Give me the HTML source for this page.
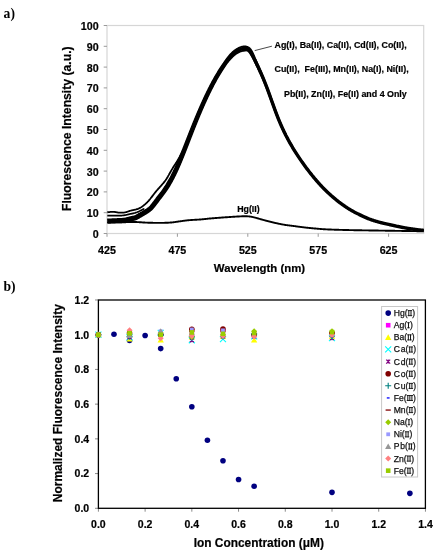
<!DOCTYPE html>
<html><head><meta charset="utf-8"><style>
html,body{margin:0;padding:0;background:#fff;width:438px;height:550px;overflow:hidden}
svg{display:block;will-change:transform}
</style></head><body>
<svg width="438" height="550" viewBox="0 0 438 550">
<rect width="438" height="550" fill="#fff"/>
<text x="3.6" y="17.6" font-family="&quot;Liberation Serif&quot;, serif" font-weight="bold" font-size="13.6">a)</text>
<text x="3.4" y="291.0" font-family="&quot;Liberation Serif&quot;, serif" font-weight="bold" font-size="13.6">b)</text>
<rect x="107.0" y="25.5" width="316.7" height="208.0" fill="none" stroke="#d6d6d6" stroke-width="1.2"/>
<line x1="103.7" y1="233.50" x2="107.0" y2="233.50" stroke="#9a9a9a" stroke-width="1"/>
<text x="98.6" y="237.90" text-anchor="end" font-family='"Liberation Sans", sans-serif' font-weight="bold" stroke="#000" stroke-width="0.2" font-size="10.7">0</text>
<line x1="103.7" y1="212.70" x2="107.0" y2="212.70" stroke="#9a9a9a" stroke-width="1"/>
<text x="98.6" y="217.10" text-anchor="end" font-family='"Liberation Sans", sans-serif' font-weight="bold" stroke="#000" stroke-width="0.2" font-size="10.7">10</text>
<line x1="103.7" y1="191.90" x2="107.0" y2="191.90" stroke="#9a9a9a" stroke-width="1"/>
<text x="98.6" y="196.30" text-anchor="end" font-family='"Liberation Sans", sans-serif' font-weight="bold" stroke="#000" stroke-width="0.2" font-size="10.7">20</text>
<line x1="103.7" y1="171.10" x2="107.0" y2="171.10" stroke="#9a9a9a" stroke-width="1"/>
<text x="98.6" y="175.50" text-anchor="end" font-family='"Liberation Sans", sans-serif' font-weight="bold" stroke="#000" stroke-width="0.2" font-size="10.7">30</text>
<line x1="103.7" y1="150.30" x2="107.0" y2="150.30" stroke="#9a9a9a" stroke-width="1"/>
<text x="98.6" y="154.70" text-anchor="end" font-family='"Liberation Sans", sans-serif' font-weight="bold" stroke="#000" stroke-width="0.2" font-size="10.7">40</text>
<line x1="103.7" y1="129.50" x2="107.0" y2="129.50" stroke="#9a9a9a" stroke-width="1"/>
<text x="98.6" y="133.90" text-anchor="end" font-family='"Liberation Sans", sans-serif' font-weight="bold" stroke="#000" stroke-width="0.2" font-size="10.7">50</text>
<line x1="103.7" y1="108.70" x2="107.0" y2="108.70" stroke="#9a9a9a" stroke-width="1"/>
<text x="98.6" y="113.10" text-anchor="end" font-family='"Liberation Sans", sans-serif' font-weight="bold" stroke="#000" stroke-width="0.2" font-size="10.7">60</text>
<line x1="103.7" y1="87.90" x2="107.0" y2="87.90" stroke="#9a9a9a" stroke-width="1"/>
<text x="98.6" y="92.30" text-anchor="end" font-family='"Liberation Sans", sans-serif' font-weight="bold" stroke="#000" stroke-width="0.2" font-size="10.7">70</text>
<line x1="103.7" y1="67.10" x2="107.0" y2="67.10" stroke="#9a9a9a" stroke-width="1"/>
<text x="98.6" y="71.50" text-anchor="end" font-family='"Liberation Sans", sans-serif' font-weight="bold" stroke="#000" stroke-width="0.2" font-size="10.7">80</text>
<line x1="103.7" y1="46.30" x2="107.0" y2="46.30" stroke="#9a9a9a" stroke-width="1"/>
<text x="98.6" y="50.70" text-anchor="end" font-family='"Liberation Sans", sans-serif' font-weight="bold" stroke="#000" stroke-width="0.2" font-size="10.7">90</text>
<line x1="103.7" y1="25.50" x2="107.0" y2="25.50" stroke="#9a9a9a" stroke-width="1"/>
<text x="98.6" y="29.90" text-anchor="end" font-family='"Liberation Sans", sans-serif' font-weight="bold" stroke="#000" stroke-width="0.2" font-size="10.7">100</text>
<line x1="107.00" y1="233.5" x2="107.00" y2="236.8" stroke="#9a9a9a" stroke-width="1"/>
<text x="107.00" y="254.1" text-anchor="middle" font-family='"Liberation Sans", sans-serif' font-weight="bold" stroke="#000" stroke-width="0.2" font-size="10.7">425</text>
<line x1="177.40" y1="233.5" x2="177.40" y2="236.8" stroke="#9a9a9a" stroke-width="1"/>
<text x="177.40" y="254.1" text-anchor="middle" font-family='"Liberation Sans", sans-serif' font-weight="bold" stroke="#000" stroke-width="0.2" font-size="10.7">475</text>
<line x1="247.80" y1="233.5" x2="247.80" y2="236.8" stroke="#9a9a9a" stroke-width="1"/>
<text x="247.80" y="254.1" text-anchor="middle" font-family='"Liberation Sans", sans-serif' font-weight="bold" stroke="#000" stroke-width="0.2" font-size="10.7">525</text>
<line x1="318.20" y1="233.5" x2="318.20" y2="236.8" stroke="#9a9a9a" stroke-width="1"/>
<text x="318.20" y="254.1" text-anchor="middle" font-family='"Liberation Sans", sans-serif' font-weight="bold" stroke="#000" stroke-width="0.2" font-size="10.7">575</text>
<line x1="388.60" y1="233.5" x2="388.60" y2="236.8" stroke="#9a9a9a" stroke-width="1"/>
<text x="388.60" y="254.1" text-anchor="middle" font-family='"Liberation Sans", sans-serif' font-weight="bold" stroke="#000" stroke-width="0.2" font-size="10.7">625</text>
<text x="259.5" y="272.1" text-anchor="middle" font-family='"Liberation Sans", sans-serif' font-weight="bold" stroke="#000" stroke-width="0.2" font-size="11.4">Wavelength (nm)</text>
<text transform="translate(71.4,128.7) rotate(-90)" text-anchor="middle" font-family='"Liberation Sans", sans-serif' font-weight="bold" stroke="#000" stroke-width="0.2" font-size="12.2">Fluorescence Intensity (a.u.)</text>
<path d="M107.17,219.50L107.80,219.46L108.42,219.43L109.01,219.40L109.61,219.37L110.21,219.34L110.81,219.31L111.41,219.28L112.01,219.25L112.61,219.22L113.21,219.19L113.81,219.16L114.41,219.13L115.01,219.10L115.62,219.07L116.22,219.05L116.82,219.03L117.43,219.00L118.03,218.98L118.63,218.96L119.22,218.94L119.82,218.92L120.41,218.89L121.01,218.87L121.60,218.84L122.18,218.81L122.76,218.77L123.32,218.72L123.88,218.66L124.42,218.59L124.96,218.51L125.50,218.40L126.05,218.28L126.60,218.14L127.17,217.99L127.75,217.84L128.34,217.68L128.93,217.53L129.54,217.39L130.14,217.25L130.75,217.12L131.34,217.00L131.92,216.88L132.49,216.75L133.04,216.63L133.57,216.49L134.09,216.34L134.59,216.17L135.07,215.98L135.56,215.77L136.04,215.53L136.53,215.27L137.03,215.00L137.54,214.71L138.05,214.41L138.57,214.10L139.10,213.80L139.62,213.50L140.15,213.20L140.67,212.90L141.19,212.61L141.71,212.32L142.22,212.02L142.73,211.72L143.24,211.42L143.74,211.12L144.25,210.81L144.76,210.50L145.26,210.19L145.75,209.88L146.24,209.57L146.72,209.25L147.19,208.93L147.64,208.60L148.09,208.27L148.51,207.92L148.93,207.56L149.34,207.19L149.74,206.80L150.13,206.40L150.51,205.99L150.89,205.56L151.27,205.13L151.64,204.69L152.01,204.24L152.37,203.79L152.74,203.32L153.09,202.86L153.45,202.39L153.80,201.92L154.16,201.44L154.51,200.96L154.86,200.48L155.22,199.99L155.58,199.50L155.95,199.02L156.31,198.53L156.68,198.05L157.05,197.57L157.43,197.09L157.80,196.61L158.18,196.14L158.55,195.66L158.93,195.19L159.30,194.73L159.67,194.26L160.04,193.79L160.41,193.32L160.77,192.86L161.14,192.39L161.49,191.92L161.85,191.45L162.20,190.98L162.55,190.50L162.89,190.03L163.23,189.54L163.57,189.06L163.90,188.58L164.23,188.09L164.55,187.60L164.88,187.10L165.20,186.61L165.51,186.11L165.83,185.61L166.14,185.10L166.45,184.60L166.76,184.09L167.06,183.59L167.37,183.08L167.67,182.56L167.97,182.05L168.26,181.54L168.56,181.02L168.85,180.51L169.14,179.99L169.43,179.47L169.71,178.95L170.00,178.43L170.28,177.91L170.55,177.38L170.83,176.86L171.11,176.33L171.38,175.80L171.65,175.27L171.92,174.74L172.18,174.21L172.45,173.68L172.71,173.15L172.97,172.61L173.23,172.08L173.49,171.54L173.75,171.00L174.00,170.46L174.26,169.92L174.51,169.38L174.76,168.84L175.01,168.30L175.26,167.76L175.50,167.22L175.75,166.68L175.99,166.13L176.23,165.59L176.47,165.04L176.71,164.49L176.95,163.95L177.19,163.40L177.42,162.85L177.66,162.30L177.89,161.75L178.12,161.20L178.36,160.65L178.59,160.10L178.82,159.55L179.05,159.00L179.28,158.44L179.51,157.89L179.74,157.34L179.96,156.79L180.19,156.23L180.42,155.68L180.64,155.12L180.86,154.57L181.09,154.01L181.31,153.46L181.53,152.90L181.76,152.35L181.98,151.79L182.20,151.23L182.42,150.68L182.64,150.12L182.86,149.56L183.09,149.01L183.31,148.45L183.53,147.89L183.75,147.34L183.96,146.78L184.18,146.22L184.40,145.66L184.62,145.10L184.84,144.55L185.06,143.99L185.28,143.43L185.50,142.87L185.72,142.31L185.93,141.75L186.15,141.19L186.37,140.63L186.59,140.08L186.81,139.52L187.03,138.96L187.25,138.40L187.46,137.84L187.68,137.28L187.90,136.72L188.12,136.16L188.34,135.61L188.56,135.05L188.78,134.49L189.00,133.93L189.22,133.37L189.44,132.81L189.66,132.25L189.88,131.69L190.10,131.13L190.32,130.58L190.54,130.02L190.76,129.46L190.99,128.90L191.21,128.34L191.43,127.78L191.65,127.23L191.88,126.67L192.10,126.11L192.33,125.55L192.55,125.00L192.78,124.44L193.00,123.88L193.23,123.33L193.45,122.77L193.68,122.21L193.91,121.65L194.13,121.10L194.36,120.54L194.59,119.99L194.82,119.43L195.05,118.87L195.28,118.32L195.51,117.76L195.74,117.21L195.97,116.65L196.20,116.10L196.43,115.54L196.67,114.99L196.90,114.43L197.14,113.88L197.37,113.33L197.60,112.77L197.84,112.22L198.08,111.67L198.31,111.11L198.55,110.56L198.79,110.01L199.03,109.46L199.27,108.91L199.51,108.35L199.75,107.80L199.99,107.25L200.23,106.70L200.47,106.15L200.72,105.60L200.96,105.05L201.21,104.50L201.45,103.95L201.70,103.40L201.94,102.85L202.19,102.30L202.44,101.75L202.69,101.21L202.94,100.66L203.19,100.11L203.44,99.56L203.69,99.02L203.95,98.47L204.20,97.93L204.46,97.38L204.71,96.84L204.97,96.29L205.23,95.75L205.49,95.20L205.75,94.66L206.01,94.12L206.27,93.57L206.53,93.03L206.80,92.49L207.06,91.95L207.33,91.41L207.59,90.87L207.86,90.33L208.13,89.79L208.40,89.25L208.67,88.71L208.94,88.17L209.21,87.64L209.49,87.10L209.76,86.56L210.04,86.03L210.32,85.49L210.60,84.96L210.88,84.42L211.16,83.89L211.44,83.36L211.72,82.82L212.01,82.29L212.29,81.76L212.58,81.23L212.87,80.70L213.16,80.17L213.46,79.64L213.75,79.12L214.05,78.59L214.34,78.06L214.64,77.54L214.94,77.01L215.25,76.49L215.55,75.97L215.85,75.45L216.16,74.93L216.47,74.41L216.78,73.89L217.09,73.37L217.40,72.86L217.71,72.34L218.03,71.82L218.34,71.31L218.66,70.80L218.98,70.28L219.30,69.77L219.63,69.26L219.95,68.75L220.28,68.24L220.61,67.73L220.94,67.23L221.27,66.72L221.61,66.22L221.95,65.72L222.28,65.22L222.62,64.72L222.97,64.22L223.31,63.72L223.66,63.23L224.00,62.73L224.34,62.22L224.68,61.72L225.02,61.21L225.37,60.71L225.72,60.21L226.08,59.71L226.44,59.22L226.80,58.73L227.17,58.24L227.55,57.75L227.93,57.27L228.32,56.79L228.71,56.31L229.11,55.84L229.51,55.37L229.92,54.90L230.34,54.44L230.76,53.98L231.20,53.53L231.64,53.09L232.09,52.64L232.55,52.21L233.02,51.78L233.51,51.36L234.01,50.95L234.52,50.55L235.04,50.17L235.58,49.80L236.12,49.44L236.67,49.10L237.23,48.77L237.79,48.45L238.36,48.15L238.94,47.86L239.53,47.58L240.16,47.31L240.81,47.06L241.48,46.85L242.16,46.66L242.84,46.52L243.52,46.40L244.22,46.37L244.93,46.42L245.67,46.51L246.43,46.65L247.20,46.88L247.95,47.19L248.65,47.58L249.28,48.03L249.86,48.53L250.38,49.07L250.83,49.64L251.22,50.20L251.57,50.76L251.90,51.33L252.20,51.90L252.48,52.46L252.75,53.02L253.00,53.58L253.25,54.14L253.50,54.70L253.74,55.26L253.97,55.82L254.21,56.38L254.44,56.94L254.67,57.50L254.90,58.05L255.15,58.60L255.39,59.15L255.64,59.69L255.89,60.24L256.13,60.79L256.38,61.33L256.63,61.88L256.88,62.42L257.12,62.97L257.37,63.52L257.62,64.06L257.87,64.61L258.12,65.16L258.36,65.70L258.61,66.25L258.86,66.80L259.10,67.35L259.35,67.90L259.59,68.45L259.84,69.00L260.08,69.55L260.32,70.10L260.56,70.65L260.80,71.20L261.04,71.75L261.28,72.31L261.51,72.86L261.75,73.41L261.98,73.97L262.21,74.52L262.45,75.08L262.68,75.63L262.91,76.19L263.14,76.74L263.37,77.30L263.59,77.86L263.82,78.41L264.04,78.97L264.26,79.53L264.48,80.09L264.70,80.65L264.92,81.21L265.14,81.77L265.36,82.33L265.57,82.89L265.80,83.45L266.01,84.01L266.23,84.57L266.45,85.13L266.66,85.69L266.88,86.25L267.09,86.81L267.31,87.37L267.52,87.94L267.73,88.50L267.94,89.06L268.15,89.63L268.36,90.19L268.57,90.75L268.77,91.32L268.98,91.88L269.18,92.45L269.39,93.01L269.59,93.57L269.79,94.14L270.00,94.71L270.20,95.27L270.40,95.84L270.60,96.40L270.80,96.97L271.01,97.53L271.21,98.10L271.41,98.66L271.61,99.23L271.81,99.79L272.01,100.36L272.21,100.93L272.41,101.49L272.61,102.06L272.81,102.62L273.01,103.19L273.21,103.75L273.41,104.32L273.62,104.88L273.82,105.45L274.02,106.01L274.22,106.58L274.43,107.14L274.63,107.70L274.83,108.27L275.04,108.83L275.24,109.39L275.45,109.96L275.66,110.52L275.87,111.08L276.08,111.64L276.28,112.20L276.50,112.76L276.71,113.33L276.92,113.89L277.13,114.45L277.35,115.01L277.56,115.56L277.78,116.12L278.00,116.68L278.21,117.24L278.43,117.80L278.65,118.35L278.88,118.91L279.10,119.46L279.33,120.02L279.56,120.57L279.78,121.13L280.01,121.68L280.25,122.23L280.48,122.78L280.71,123.33L280.95,123.88L281.19,124.43L281.43,124.98L281.67,125.53L281.91,126.08L282.15,126.63L282.40,127.17L282.65,127.72L282.89,128.26L283.14,128.81L283.40,129.35L283.65,129.89L283.90,130.43L284.16,130.98L284.42,131.52L284.68,132.06L284.94,132.59L285.20,133.13L285.47,133.67L285.74,134.20L286.00,134.74L286.27,135.28L286.54,135.81L286.82,136.34L287.09,136.87L287.37,137.41L287.65,137.94L287.93,138.47L288.21,138.99L288.49,139.52L288.77,140.05L289.06,140.58L289.35,141.10L289.63,141.63L289.93,142.15L290.22,142.67L290.51,143.19L290.81,143.72L291.10,144.24L291.40,144.75L291.70,145.27L292.00,145.79L292.31,146.31L292.61,146.82L292.92,147.34L293.22,147.85L293.53,148.37L293.84,148.88L294.15,149.39L294.47,149.90L294.78,150.41L295.09,150.92L295.41,151.43L295.73,151.94L296.05,152.45L296.37,152.95L296.69,153.46L297.01,153.96L297.34,154.47L297.66,154.97L297.99,155.47L298.32,155.97L298.65,156.47L298.98,156.97L299.31,157.47L299.64,157.97L299.98,158.47L300.31,158.96L300.65,159.46L300.99,159.95L301.33,160.45L301.67,160.94L302.02,161.43L302.36,161.92L302.71,162.41L303.05,162.90L303.40,163.39L303.75,163.88L304.10,164.36L304.45,164.85L304.80,165.34L305.15,165.82L305.51,166.30L305.86,166.79L306.22,167.27L306.58,167.75L306.93,168.23L307.29,168.71L307.66,169.18L308.02,169.66L308.38,170.14L308.75,170.61L309.11,171.09L309.48,171.56L309.85,172.03L310.22,172.51L310.59,172.98L310.96,173.45L311.33,173.92L311.71,174.39L312.08,174.85L312.46,175.32L312.83,175.78L313.21,176.25L313.59,176.71L313.98,177.17L314.36,177.63L314.74,178.09L315.13,178.55L315.52,179.01L315.91,179.46L316.30,179.92L316.69,180.37L317.08,180.82L317.48,181.27L317.87,181.72L318.27,182.17L318.66,182.62L319.06,183.07L319.46,183.52L319.87,183.96L320.27,184.40L320.67,184.85L321.08,185.29L321.49,185.73L321.89,186.16L322.30,186.60L322.72,187.03L323.13,187.46L323.55,187.89L323.97,188.32L324.39,188.75L324.81,189.17L325.23,189.59L325.66,190.01L326.09,190.43L326.52,190.85L326.95,191.26L327.39,191.68L327.82,192.09L328.26,192.50L328.70,192.90L329.14,193.31L329.58,193.71L330.02,194.11L330.47,194.52L330.91,194.92L331.36,195.32L331.81,195.71L332.26,196.11L332.71,196.51L333.16,196.90L333.61,197.29L334.07,197.68L334.52,198.07L334.98,198.46L335.44,198.85L335.89,199.23L336.36,199.61L336.82,199.99L337.28,200.37L337.75,200.74L338.22,201.12L338.69,201.49L339.16,201.85L339.64,202.22L340.12,202.58L340.60,202.93L341.08,203.29L341.56,203.65L342.04,204.00L342.53,204.35L343.02,204.70L343.50,205.05L343.99,205.40L344.48,205.74L344.97,206.09L345.46,206.43L345.96,206.77L346.45,207.10L346.95,207.43L347.45,207.77L347.95,208.09L348.46,208.42L348.96,208.74L349.47,209.05L349.98,209.36L350.49,209.67L351.01,209.98L351.53,210.28L352.04,210.58L352.57,210.88L353.09,211.17L353.61,211.46L354.14,211.75L354.66,212.03L355.19,212.32L355.72,212.60L356.25,212.88L356.79,213.15L357.32,213.42L357.85,213.70L358.39,213.97L358.93,214.23L359.46,214.50L360.00,214.76L360.54,215.03L361.08,215.29L361.62,215.55L362.16,215.81L362.70,216.07L363.24,216.32L363.79,216.58L364.33,216.83L364.88,217.08L365.42,217.33L365.97,217.57L366.52,217.81L367.07,218.05L367.62,218.28L368.18,218.51L368.73,218.73L369.29,218.95L369.85,219.17L370.41,219.38L370.97,219.58L371.54,219.78L372.11,219.98L372.67,220.18L373.24,220.37L373.81,220.55L374.38,220.74L374.95,220.92L375.53,221.10L376.10,221.28L376.67,221.45L377.25,221.62L377.83,221.79L378.40,221.95L378.98,222.11L379.56,222.27L380.14,222.43L380.72,222.58L381.30,222.73L381.88,222.87L382.47,223.01L383.05,223.15L383.63,223.29L384.22,223.42L384.80,223.55L385.39,223.68L385.98,223.81L386.56,223.94L387.15,224.07L387.73,224.20L388.32,224.33L388.91,224.46L389.49,224.59L390.08,224.72L390.66,224.85L391.25,224.98L391.83,225.12L392.42,225.25L393.00,225.38L393.59,225.51L394.17,225.65L394.76,225.78L395.34,225.91L395.93,226.04L396.52,226.17L397.10,226.29L397.69,226.42L398.28,226.54L398.86,226.67L399.45,226.79L400.04,226.90L400.63,227.02L401.22,227.14L401.81,227.25L402.39,227.37L402.98,227.48L403.57,227.59L404.16,227.70L404.75,227.81L405.34,227.92L405.93,228.03L406.52,228.13L407.12,228.23L407.71,228.33L408.30,228.43L408.89,228.52L409.48,228.62L410.08,228.71L410.67,228.80L411.26,228.88L411.86,228.97L412.45,229.05L413.05,229.14L413.64,229.22L414.24,229.30L414.83,229.38L415.42,229.46L416.02,229.54L416.62,229.61L417.21,229.69L417.81,229.76L418.40,229.83L419.00,229.90L419.59,229.97L420.19,230.04L420.79,230.10L421.38,230.17L421.98,230.23L422.58,230.28L423.18,230.32L423.70,230.40" fill="none" stroke="#000" stroke-width="1.8" stroke-linejoin="round"/>
<path d="M107.43,222.90L108.00,222.85L108.57,222.83L109.18,222.80L109.78,222.77L110.38,222.74L110.98,222.70L111.58,222.67L112.18,222.64L112.78,222.61L113.38,222.58L113.97,222.55L114.57,222.52L115.17,222.50L115.76,222.47L116.36,222.45L116.95,222.42L117.55,222.40L118.15,222.38L118.75,222.36L119.35,222.34L119.95,222.32L120.56,222.29L121.16,222.26L121.77,222.23L122.39,222.20L123.01,222.16L123.64,222.11L124.27,222.04L124.92,221.96L125.56,221.85L126.20,221.73L126.83,221.59L127.44,221.44L128.03,221.28L128.62,221.13L129.19,220.98L129.75,220.83L130.31,220.70L130.88,220.57L131.45,220.45L132.03,220.33L132.62,220.20L133.23,220.07L133.85,219.93L134.48,219.77L135.11,219.58L135.75,219.36L136.38,219.11L136.99,218.84L137.59,218.54L138.15,218.24L138.70,217.93L139.23,217.62L139.75,217.31L140.27,217.00L140.78,216.70L141.29,216.40L141.81,216.11L142.33,215.81L142.85,215.51L143.38,215.20L143.90,214.89L144.42,214.58L144.95,214.27L145.47,213.95L145.98,213.63L146.50,213.31L147.02,212.99L147.53,212.66L148.05,212.32L148.57,211.97L149.09,211.61L149.61,211.23L150.12,210.83L150.62,210.42L151.11,210.00L151.58,209.56L152.04,209.11L152.49,208.64L152.92,208.17L153.34,207.70L153.74,207.23L154.14,206.75L154.53,206.27L154.92,205.79L155.29,205.30L155.66,204.81L156.03,204.32L156.39,203.83L156.75,203.34L157.11,202.86L157.46,202.37L157.81,201.89L158.16,201.41L158.51,200.93L158.87,200.46L159.22,199.99L159.58,199.51L159.94,199.05L160.31,198.58L160.68,198.11L161.04,197.64L161.41,197.17L161.79,196.70L162.16,196.22L162.53,195.75L162.90,195.27L163.27,194.79L163.64,194.31L164.01,193.82L164.38,193.33L164.74,192.84L165.10,192.34L165.45,191.84L165.80,191.34L166.15,190.84L166.49,190.33L166.83,189.82L167.17,189.31L167.50,188.80L167.83,188.28L168.15,187.77L168.47,187.25L168.79,186.73L169.11,186.21L169.42,185.69L169.73,185.17L170.04,184.65L170.34,184.12L170.65,183.60L170.95,183.07L171.25,182.54L171.54,182.01L171.84,181.49L172.13,180.95L172.42,180.42L172.71,179.89L172.99,179.35L173.27,178.81L173.55,178.28L173.83,177.74L174.11,177.20L174.38,176.66L174.65,176.11L174.92,175.57L175.19,175.03L175.45,174.49L175.72,173.94L175.98,173.40L176.24,172.85L176.50,172.30L176.75,171.76L177.01,171.21L177.26,170.66L177.52,170.11L177.77,169.56L178.02,169.01L178.26,168.46L178.51,167.91L178.75,167.36L179.00,166.80L179.24,166.25L179.48,165.70L179.72,165.14L179.95,164.59L180.19,164.03L180.43,163.48L180.66,162.92L180.89,162.37L181.13,161.81L181.36,161.26L181.59,160.70L181.82,160.14L182.05,159.59L182.28,159.03L182.50,158.47L182.73,157.91L182.96,157.36L183.18,156.80L183.41,156.24L183.63,155.68L183.85,155.12L184.07,154.56L184.30,154.01L184.52,153.45L184.74,152.89L184.96,152.33L185.18,151.77L185.40,151.21L185.62,150.65L185.84,150.09L186.06,149.53L186.28,148.97L186.50,148.41L186.71,147.85L186.93,147.29L187.15,146.73L187.37,146.17L187.58,145.62L187.80,145.06L188.02,144.50L188.24,143.94L188.45,143.38L188.67,142.82L188.89,142.26L189.10,141.70L189.32,141.14L189.54,140.58L189.75,140.02L189.97,139.46L190.19,138.90L190.40,138.34L190.62,137.78L190.84,137.22L191.05,136.66L191.27,136.11L191.49,135.55L191.71,134.99L191.92,134.43L192.14,133.87L192.36,133.31L192.58,132.75L192.80,132.20L193.02,131.64L193.23,131.08L193.45,130.52L193.67,129.97L193.89,129.41L194.11,128.85L194.33,128.29L194.56,127.74L194.78,127.18L195.00,126.62L195.22,126.07L195.44,125.51L195.66,124.96L195.89,124.40L196.11,123.84L196.34,123.29L196.56,122.73L196.78,122.18L197.01,121.62L197.23,121.07L197.46,120.51L197.69,119.96L197.91,119.41L198.14,118.85L198.37,118.30L198.60,117.74L198.83,117.19L199.06,116.64L199.29,116.09L199.52,115.53L199.75,114.98L199.98,114.43L200.21,113.88L200.45,113.33L200.68,112.78L200.91,112.22L201.15,111.67L201.38,111.12L201.62,110.57L201.85,110.02L202.09,109.47L202.33,108.92L202.57,108.38L202.80,107.83L203.04,107.28L203.28,106.73L203.52,106.18L203.77,105.63L204.01,105.09L204.25,104.54L204.49,103.99L204.74,103.45L204.98,102.90L205.23,102.36L205.47,101.81L205.72,101.27L205.97,100.72L206.22,100.18L206.47,99.64L206.72,99.09L206.97,98.55L207.22,98.01L207.47,97.47L207.73,96.93L207.98,96.39L208.24,95.85L208.50,95.31L208.75,94.77L209.01,94.23L209.27,93.69L209.53,93.15L209.79,92.62L210.05,92.08L210.32,91.54L210.58,91.01L210.85,90.47L211.11,89.94L211.38,89.40L211.65,88.87L211.92,88.34L212.19,87.80L212.46,87.27L212.73,86.74L213.01,86.21L213.28,85.68L213.56,85.15L213.83,84.62L214.11,84.09L214.39,83.57L214.67,83.04L214.96,82.52L215.24,81.99L215.53,81.47L215.81,80.95L216.10,80.42L216.39,79.90L216.68,79.38L216.97,78.86L217.27,78.35L217.56,77.83L217.86,77.31L218.16,76.79L218.46,76.28L218.76,75.76L219.06,75.25L219.37,74.74L219.67,74.23L219.98,73.71L220.29,73.21L220.60,72.70L220.91,72.19L221.22,71.68L221.54,71.18L221.85,70.67L222.17,70.17L222.49,69.67L222.81,69.17L223.14,68.67L223.46,68.17L223.79,67.67L224.12,67.18L224.45,66.68L224.78,66.19L225.12,65.69L225.45,65.20L225.79,64.71L226.13,64.23L226.49,63.75L226.85,63.28L227.21,62.81L227.57,62.34L227.93,61.88L228.30,61.42L228.68,60.97L229.05,60.52L229.43,60.07L229.82,59.63L230.21,59.20L230.60,58.76L231.00,58.34L231.40,57.92L231.81,57.50L232.22,57.09L232.64,56.69L233.06,56.29L233.48,55.91L233.91,55.53L234.34,55.16L234.78,54.80L235.23,54.46L235.68,54.12L236.13,53.80L236.59,53.50L237.06,53.21L237.53,52.93L238.02,52.67L238.51,52.41L239.01,52.17L239.52,51.94L240.03,51.72L240.54,51.52L241.05,51.33L241.54,51.17L242.03,51.04L242.51,50.93L243.00,50.85L243.50,50.79L244.01,50.75L244.51,50.67L245.00,50.57L245.46,50.49L245.89,50.45L246.30,50.45L246.70,50.50L247.09,50.60L247.49,50.76L247.89,50.97L248.26,51.22L248.63,51.54L248.98,51.91L249.34,52.32L249.68,52.74L250.00,53.20L250.32,53.68L250.64,54.17L250.94,54.67L251.25,55.17L251.55,55.68L251.84,56.20L252.13,56.72L252.43,57.24L252.71,57.76L253.00,58.29L253.28,58.82L253.54,59.35L253.80,59.89L254.07,60.43L254.33,60.97L254.60,61.51L254.86,62.05L255.12,62.59L255.39,63.13L255.66,63.67L255.92,64.20L256.19,64.74L256.45,65.28L256.71,65.82L256.98,66.36L257.24,66.90L257.50,67.43L257.76,67.97L258.03,68.51L258.29,69.05L258.54,69.59L258.80,70.13L259.06,70.67L259.31,71.21L259.57,71.76L259.82,72.30L260.08,72.84L260.33,73.39L260.58,73.93L260.83,74.47L261.08,75.02L261.32,75.56L261.57,76.11L261.81,76.66L262.06,77.20L262.30,77.75L262.54,78.30L262.78,78.85L263.02,79.40L263.26,79.95L263.49,80.50L263.73,81.05L263.96,81.60L264.19,82.15L264.42,82.70L264.65,83.26L264.87,83.82L265.09,84.37L265.31,84.93L265.53,85.49L265.75,86.05L265.96,86.60L266.18,87.16L266.39,87.72L266.61,88.28L266.82,88.84L267.03,89.40L267.24,89.96L267.45,90.53L267.66,91.09L267.87,91.65L268.08,92.21L268.28,92.77L268.49,93.34L268.70,93.90L268.90,94.46L269.11,95.03L269.31,95.59L269.51,96.15L269.72,96.72L269.92,97.28L270.12,97.85L270.33,98.41L270.53,98.98L270.73,99.54L270.93,100.11L271.14,100.67L271.34,101.24L271.54,101.80L271.75,102.36L271.95,102.93L272.15,103.49L272.36,104.06L272.56,104.62L272.76,105.19L272.97,105.75L273.17,106.32L273.38,106.88L273.58,107.45L273.79,108.01L274.00,108.57L274.20,109.14L274.41,109.70L274.62,110.26L274.83,110.83L275.04,111.39L275.25,111.95L275.46,112.51L275.68,113.07L275.89,113.64L276.11,114.20L276.32,114.76L276.54,115.32L276.76,115.88L276.98,116.44L277.20,116.99L277.42,117.55L277.64,118.11L277.87,118.67L278.09,119.23L278.32,119.78L278.55,120.34L278.78,120.89L279.01,121.45L279.25,122.00L279.48,122.56L279.72,123.11L279.96,123.66L280.20,124.21L280.44,124.76L280.68,125.31L280.92,125.86L281.17,126.41L281.42,126.96L281.67,127.50L281.92,128.05L282.17,128.60L282.42,129.14L282.68,129.69L282.93,130.23L283.19,130.77L283.45,131.31L283.72,131.86L283.98,132.40L284.24,132.94L284.51,133.47L284.78,134.01L285.05,134.55L285.32,135.09L285.60,135.62L285.87,136.15L286.15,136.69L286.43,137.22L286.71,137.75L286.99,138.28L287.27,138.81L287.56,139.34L287.84,139.87L288.13,140.40L288.42,140.93L288.71,141.45L289.00,141.98L289.30,142.50L289.60,143.02L289.89,143.55L290.19,144.07L290.49,144.59L290.80,145.11L291.10,145.63L291.40,146.14L291.71,146.66L292.02,147.18L292.33,147.69L292.64,148.21L292.95,148.72L293.27,149.23L293.58,149.74L293.90,150.25L294.22,150.76L294.54,151.27L294.86,151.78L295.18,152.29L295.50,152.79L295.83,153.30L296.15,153.81L296.48,154.31L296.81,154.81L297.14,155.31L297.47,155.82L297.80,156.32L298.13,156.82L298.47,157.31L298.80,157.81L299.14,158.31L299.48,158.81L299.82,159.30L300.16,159.80L300.50,160.29L300.84,160.79L301.18,161.28L301.52,161.77L301.87,162.27L302.22,162.76L302.56,163.25L302.91,163.74L303.26,164.23L303.61,164.71L303.96,165.20L304.31,165.69L304.67,166.17L305.02,166.66L305.38,167.14L305.74,167.62L306.09,168.11L306.45,168.59L306.82,169.07L307.18,169.55L307.54,170.03L307.91,170.50L308.27,170.98L308.64,171.45L309.01,171.93L309.38,172.40L309.75,172.88L310.12,173.35L310.49,173.82L310.86,174.29L311.24,174.76L311.61,175.23L311.99,175.70L312.37,176.16L312.75,176.63L313.13,177.09L313.51,177.56L313.90,178.02L314.28,178.48L314.67,178.94L315.06,179.40L315.45,179.85L315.84,180.31L316.23,180.76L316.63,181.22L317.02,181.67L317.42,182.12L317.82,182.57L318.22,183.02L318.62,183.47L319.02,183.92L319.42,184.36L319.82,184.81L320.23,185.25L320.64,185.69L321.05,186.13L321.46,186.57L321.87,187.01L322.28,187.45L322.70,187.88L323.12,188.31L323.54,188.74L323.96,189.17L324.39,189.60L324.81,190.02L325.24,190.44L325.67,190.86L326.10,191.28L326.54,191.70L326.97,192.11L327.41,192.52L327.85,192.93L328.29,193.34L328.73,193.75L329.18,194.16L329.62,194.56L330.07,194.96L330.52,195.36L330.97,195.76L331.42,196.15L331.88,196.54L332.33,196.94L332.79,197.33L333.25,197.72L333.71,198.10L334.17,198.49L334.63,198.87L335.09,199.26L335.56,199.64L336.02,200.02L336.49,200.40L336.96,200.77L337.43,201.14L337.91,201.51L338.39,201.88L338.86,202.24L339.35,202.60L339.83,202.96L340.31,203.32L340.80,203.67L341.29,204.02L341.78,204.37L342.27,204.72L342.76,205.06L343.25,205.41L343.74,205.75L344.24,206.09L344.73,206.43L345.23,206.77L345.73,207.11L346.23,207.44L346.73,207.77L347.24,208.09L347.74,208.42L348.25,208.74L348.77,209.05L349.28,209.37L349.80,209.67L350.31,209.98L350.83,210.28L351.36,210.58L351.88,210.87L352.40,211.17L352.93,211.45L353.46,211.74L353.99,212.02L354.52,212.30L355.05,212.58L355.59,212.86L356.12,213.13L356.66,213.40L357.20,213.67L357.73,213.93L358.27,214.20L358.81,214.46L359.36,214.72L359.90,214.98L360.44,215.24L360.98,215.49L361.52,215.75L362.07,216.00L362.61,216.26L363.16,216.51L363.70,216.76L364.25,217.00L364.80,217.25L365.35,217.49L365.90,217.73L366.45,217.96L367.01,218.19L367.56,218.42L368.12,218.64L368.68,218.86L369.24,219.07L369.81,219.28L370.37,219.49L370.94,219.68L371.51,219.88L372.08,220.07L372.65,220.26L373.22,220.44L373.79,220.63L374.36,220.80L374.94,220.98L375.51,221.15L376.09,221.32L376.66,221.49L377.24,221.65L377.82,221.81L378.40,221.97L378.98,222.13L379.56,222.28L380.14,222.43L380.72,222.58L381.30,222.73L381.88,222.87L382.47,223.01L383.05,223.15L383.63,223.29L384.22,223.42L384.80,223.55L385.39,223.68L385.98,223.81L386.56,223.94L387.15,224.07L387.73,224.20L388.32,224.33L388.91,224.46L389.49,224.59L390.08,224.72L390.66,224.85L391.25,224.98L391.83,225.12L392.42,225.25L393.00,225.38L393.59,225.51L394.17,225.65L394.76,225.78L395.34,225.91L395.93,226.04L396.52,226.17L397.10,226.29L397.69,226.42L398.28,226.54L398.86,226.67L399.45,226.79L400.04,226.90L400.63,227.02L401.22,227.14L401.81,227.25L402.39,227.37L402.98,227.48L403.57,227.59L404.16,227.70L404.75,227.81L405.34,227.92L405.93,228.03L406.52,228.13L407.12,228.23L407.71,228.33L408.30,228.43L408.89,228.52L409.48,228.62L410.08,228.71L410.67,228.80L411.26,228.88L411.86,228.97L412.45,229.05L413.05,229.14L413.64,229.22L414.24,229.30L414.83,229.38L415.42,229.46L416.02,229.54L416.62,229.61L417.21,229.69L417.81,229.76L418.40,229.83L419.00,229.90L419.59,229.97L420.19,230.04L420.79,230.10L421.38,230.17L421.98,230.23L422.58,230.28L423.18,230.32L423.70,230.40" fill="none" stroke="#000" stroke-width="1.8" stroke-linejoin="round"/>
<path d="M107.30,221.20L107.90,221.15L108.50,221.13L109.10,221.10L109.70,221.07L110.30,221.04L110.89,221.01L111.49,220.98L112.09,220.94L112.69,220.91L113.29,220.88L113.89,220.86L114.49,220.83L115.09,220.80L115.69,220.77L116.29,220.75L116.89,220.73L117.49,220.70L118.09,220.68L118.69,220.66L119.29,220.64L119.89,220.62L120.49,220.59L121.08,220.57L121.68,220.54L122.28,220.50L122.88,220.46L123.48,220.41L124.08,220.35L124.67,220.27L125.26,220.18L125.85,220.06L126.44,219.93L127.02,219.79L127.60,219.64L128.18,219.48L128.76,219.33L129.34,219.18L129.93,219.04L130.51,218.91L131.10,218.78L131.69,218.66L132.27,218.54L132.86,218.41L133.44,218.28L134.02,218.13L134.60,217.96L135.17,217.76L135.73,217.55L136.28,217.30L136.81,217.04L137.34,216.76L137.87,216.46L138.38,216.16L138.90,215.86L139.42,215.55L139.94,215.25L140.46,214.95L140.98,214.65L141.50,214.36L142.02,214.06L142.54,213.76L143.06,213.46L143.58,213.15L144.09,212.84L144.60,212.53L145.12,212.22L145.63,211.91L146.14,211.59L146.64,211.27L147.15,210.94L147.65,210.61L148.14,210.27L148.63,209.92L149.10,209.55L149.57,209.17L150.02,208.78L150.46,208.37L150.89,207.95L151.31,207.52L151.72,207.08L152.12,206.63L152.51,206.18L152.89,205.72L153.27,205.26L153.65,204.79L154.01,204.31L154.38,203.84L154.74,203.36L155.10,202.88L155.45,202.39L155.81,201.91L156.16,201.42L156.52,200.94L156.87,200.46L157.23,199.97L157.59,199.49L157.95,199.02L158.32,198.54L158.68,198.07L159.05,197.59L159.43,197.12L159.80,196.65L160.17,196.18L160.54,195.71L160.91,195.24L161.29,194.77L161.66,194.30L162.02,193.82L162.39,193.35L162.75,192.87L163.11,192.39L163.47,191.91L163.82,191.42L164.17,190.93L164.52,190.44L164.86,189.95L165.20,189.45L165.53,188.95L165.86,188.45L166.19,187.95L166.51,187.45L166.83,186.94L167.15,186.43L167.47,185.92L167.78,185.41L168.09,184.89L168.40,184.38L168.70,183.86L169.00,183.34L169.31,182.83L169.60,182.31L169.90,181.78L170.20,181.26L170.49,180.74L170.78,180.21L171.06,179.68L171.35,179.16L171.63,178.63L171.91,178.10L172.19,177.57L172.47,177.03L172.74,176.50L173.01,175.96L173.28,175.43L173.55,174.89L173.82,174.35L174.08,173.82L174.34,173.28L174.61,172.74L174.87,172.19L175.12,171.65L175.38,171.11L175.63,170.57L175.89,170.02L176.14,169.48L176.39,168.93L176.64,168.39L176.88,167.84L177.13,167.29L177.37,166.74L177.61,166.19L177.85,165.65L178.09,165.09L178.33,164.54L178.57,163.99L178.81,163.44L179.04,162.89L179.28,162.34L179.51,161.78L179.74,161.23L179.97,160.68L180.20,160.12L180.43,159.57L180.66,159.02L180.89,158.46L181.12,157.91L181.35,157.35L181.57,156.79L181.80,156.24L182.02,155.68L182.25,155.13L182.47,154.57L182.69,154.01L182.92,153.45L183.14,152.90L183.36,152.34L183.58,151.78L183.80,151.22L184.02,150.67L184.24,150.11L184.46,149.55L184.68,148.99L184.90,148.43L185.12,147.87L185.34,147.32L185.56,146.76L185.78,146.20L185.99,145.64L186.21,145.08L186.43,144.52L186.65,143.96L186.87,143.40L187.08,142.84L187.30,142.28L187.52,141.73L187.74,141.17L187.95,140.61L188.17,140.05L188.39,139.49L188.61,138.93L188.83,138.37L189.04,137.81L189.26,137.25L189.48,136.69L189.70,136.13L189.92,135.58L190.13,135.02L190.35,134.46L190.57,133.90L190.79,133.34L191.01,132.78L191.23,132.22L191.45,131.67L191.67,131.11L191.89,130.55L192.11,129.99L192.33,129.43L192.55,128.88L192.77,128.32L192.99,127.76L193.22,127.20L193.44,126.65L193.66,126.09L193.89,125.53L194.11,124.98L194.33,124.42L194.56,123.86L194.78,123.31L195.01,122.75L195.23,122.19L195.46,121.64L195.69,121.08L195.91,120.53L196.14,119.97L196.37,119.42L196.60,118.86L196.82,118.31L197.05,117.75L197.28,117.20L197.52,116.64L197.75,116.09L197.98,115.54L198.21,114.98L198.44,114.43L198.67,113.88L198.91,113.33L199.14,112.77L199.38,112.22L199.61,111.67L199.85,111.12L200.09,110.57L200.32,110.01L200.56,109.46L200.80,108.91L201.04,108.36L201.28,107.81L201.52,107.26L201.76,106.71L202.00,106.16L202.24,105.62L202.49,105.07L202.73,104.52L202.97,103.97L203.22,103.42L203.46,102.88L203.71,102.33L203.96,101.78L204.21,101.24L204.46,100.69L204.71,100.14L204.96,99.60L205.21,99.05L205.46,98.51L205.71,97.97L205.97,97.42L206.22,96.88L206.48,96.34L206.74,95.79L206.99,95.25L207.25,94.71L207.51,94.17L207.77,93.63L208.03,93.09L208.29,92.55L208.56,92.01L208.82,91.47L209.09,90.93L209.36,90.40L209.62,89.86L209.89,89.32L210.16,88.79L210.43,88.25L210.70,87.72L210.98,87.18L211.25,86.65L211.53,86.12L211.80,85.58L212.08,85.05L212.36,84.52L212.64,83.99L212.92,83.46L213.20,82.93L213.48,82.40L213.77,81.87L214.06,81.35L214.34,80.82L214.63,80.29L214.93,79.77L215.22,79.25L215.51,78.72L215.81,78.20L216.11,77.68L216.40,77.16L216.71,76.64L217.01,76.12L217.31,75.60L217.61,75.09L217.92,74.57L218.23,74.06L218.54,73.54L218.85,73.03L219.16,72.51L219.47,72.00L219.79,71.49L220.10,70.98L220.42,70.47L220.74,69.97L221.06,69.46L221.39,68.95L221.71,68.45L222.04,67.95L222.37,67.45L222.70,66.95L223.03,66.45L223.37,65.95L223.70,65.45L224.04,64.96L224.38,64.46L224.72,63.97L225.07,63.48L225.41,62.99L225.76,62.50L226.11,62.01L226.47,61.53L226.83,61.05L227.19,60.57L227.56,60.10L227.93,59.62L228.30,59.16L228.69,58.69L229.07,58.23L229.46,57.78L229.85,57.32L230.25,56.88L230.66,56.43L231.07,56.00L231.49,55.57L231.91,55.14L232.34,54.72L232.77,54.31L233.22,53.90L233.67,53.51L234.13,53.12L234.59,52.74L235.07,52.38L235.56,52.03L236.05,51.69L236.56,51.36L237.07,51.05L237.59,50.75L238.12,50.47L238.65,50.20L239.19,49.94L239.74,49.69L240.29,49.45L240.85,49.24L241.42,49.05L242.00,48.89L242.58,48.76L243.17,48.65L243.77,48.57L244.37,48.52L244.97,48.49L245.57,48.50L246.16,48.55L246.75,48.67L247.32,48.85L247.87,49.09L248.39,49.39L248.87,49.75L249.32,50.15L249.73,50.59L250.10,51.05L250.46,51.54L250.79,52.04L251.10,52.55L251.40,53.07L251.69,53.60L251.97,54.12L252.25,54.66L252.52,55.19L252.79,55.73L253.05,56.27L253.32,56.81L253.57,57.35L253.83,57.89L254.09,58.43L254.34,58.98L254.60,59.52L254.85,60.06L255.11,60.61L255.37,61.15L255.62,61.69L255.88,62.23L256.13,62.78L256.39,63.32L256.65,63.86L256.90,64.40L257.16,64.95L257.42,65.49L257.67,66.03L257.93,66.57L258.18,67.12L258.43,67.66L258.69,68.21L258.94,68.75L259.19,69.29L259.44,69.84L259.69,70.39L259.94,70.93L260.18,71.48L260.43,72.03L260.68,72.57L260.92,73.12L261.16,73.67L261.40,74.22L261.64,74.77L261.88,75.32L262.12,75.87L262.36,76.42L262.60,76.97L262.83,77.52L263.07,78.08L263.30,78.63L263.53,79.18L263.76,79.74L263.99,80.29L264.21,80.85L264.44,81.40L264.67,81.96L264.89,82.52L265.11,83.08L265.33,83.63L265.55,84.19L265.77,84.75L265.99,85.31L266.20,85.87L266.42,86.43L266.64,86.99L266.85,87.55L267.06,88.11L267.27,88.67L267.49,89.23L267.70,89.79L267.90,90.36L268.11,90.92L268.32,91.48L268.53,92.05L268.73,92.61L268.94,93.17L269.14,93.74L269.35,94.30L269.55,94.87L269.75,95.43L269.96,96.00L270.16,96.56L270.36,97.12L270.56,97.69L270.77,98.25L270.97,98.82L271.17,99.38L271.37,99.95L271.57,100.51L271.77,101.08L271.98,101.65L272.18,102.21L272.38,102.78L272.58,103.34L272.78,103.91L272.99,104.47L273.19,105.03L273.39,105.60L273.60,106.16L273.80,106.73L274.00,107.29L274.21,107.86L274.41,108.42L274.62,108.98L274.83,109.55L275.04,110.11L275.24,110.67L275.45,111.23L275.66,111.80L275.87,112.36L276.09,112.92L276.30,113.48L276.51,114.04L276.73,114.60L276.94,115.16L277.16,115.72L277.38,116.28L277.60,116.84L277.82,117.40L278.04,117.95L278.26,118.51L278.49,119.07L278.71,119.62L278.94,120.18L279.17,120.73L279.40,121.29L279.63,121.84L279.86,122.39L280.10,122.95L280.33,123.50L280.57,124.05L280.81,124.60L281.05,125.15L281.29,125.70L281.54,126.24L281.78,126.79L282.03,127.34L282.28,127.88L282.53,128.43L282.78,128.97L283.04,129.52L283.29,130.06L283.55,130.60L283.81,131.15L284.07,131.69L284.33,132.23L284.59,132.76L284.86,133.30L285.12,133.84L285.39,134.38L285.66,134.91L285.93,135.45L286.21,135.98L286.48,136.52L286.76,137.05L287.04,137.58L287.32,138.11L287.60,138.64L287.88,139.17L288.17,139.70L288.45,140.23L288.74,140.75L289.03,141.28L289.32,141.80L289.61,142.33L289.91,142.85L290.20,143.37L290.50,143.89L290.80,144.41L291.10,144.93L291.40,145.45L291.70,145.97L292.01,146.48L292.32,147.00L292.62,147.52L292.93,148.03L293.24,148.54L293.55,149.06L293.87,149.57L294.18,150.08L294.50,150.59L294.81,151.10L295.13,151.61L295.45,152.11L295.77,152.62L296.10,153.13L296.42,153.63L296.75,154.14L297.07,154.64L297.40,155.14L297.73,155.64L298.06,156.14L298.39,156.64L298.72,157.14L299.06,157.64L299.39,158.14L299.73,158.64L300.07,159.13L300.41,159.63L300.75,160.12L301.09,160.62L301.43,161.11L301.77,161.60L302.12,162.09L302.46,162.58L302.81,163.07L303.15,163.56L303.50,164.05L303.85,164.54L304.20,165.03L304.56,165.51L304.91,166.00L305.26,166.48L305.62,166.96L305.98,167.45L306.33,167.93L306.69,168.41L307.06,168.89L307.42,169.37L307.78,169.84L308.14,170.32L308.51,170.80L308.88,171.27L309.24,171.75L309.61,172.22L309.98,172.69L310.35,173.16L310.72,173.63L311.10,174.10L311.47,174.57L311.85,175.04L312.22,175.51L312.60,175.97L312.98,176.44L313.36,176.90L313.74,177.36L314.13,177.83L314.51,178.29L314.90,178.74L315.29,179.20L315.68,179.66L316.07,180.11L316.46,180.57L316.85,181.02L317.25,181.47L317.65,181.92L318.04,182.37L318.44,182.82L318.84,183.27L319.24,183.72L319.64,184.16L320.05,184.61L320.45,185.05L320.86,185.49L321.27,185.93L321.68,186.37L322.09,186.80L322.50,187.24L322.92,187.67L323.33,188.10L323.75,188.53L324.17,188.96L324.60,189.39L325.02,189.81L325.45,190.23L325.88,190.65L326.31,191.07L326.74,191.48L327.18,191.89L327.62,192.30L328.05,192.71L328.49,193.12L328.94,193.53L329.38,193.93L329.82,194.34L330.27,194.74L330.72,195.14L331.16,195.54L331.62,195.93L332.07,196.33L332.52,196.72L332.97,197.11L333.43,197.50L333.89,197.89L334.34,198.28L334.80,198.67L335.26,199.05L335.73,199.43L336.19,199.82L336.65,200.19L337.12,200.57L337.59,200.94L338.06,201.32L338.54,201.68L339.01,202.05L339.49,202.41L339.97,202.77L340.46,203.13L340.94,203.48L341.42,203.83L341.91,204.18L342.40,204.53L342.89,204.88L343.38,205.23L343.87,205.58L344.36,205.92L344.85,206.26L345.35,206.60L345.84,206.94L346.34,207.27L346.84,207.60L347.34,207.93L347.85,208.25L348.36,208.58L348.86,208.89L349.38,209.21L349.89,209.52L350.40,209.83L350.92,210.13L351.44,210.43L351.96,210.73L352.48,211.02L353.01,211.31L353.54,211.60L354.06,211.89L354.59,212.17L355.12,212.45L355.65,212.73L356.19,213.00L356.72,213.28L357.26,213.55L357.79,213.82L358.33,214.08L358.87,214.35L359.41,214.61L359.95,214.87L360.49,215.13L361.03,215.39L361.57,215.65L362.11,215.91L362.66,216.16L363.20,216.42L363.75,216.67L364.29,216.92L364.84,217.17L365.39,217.41L365.94,217.65L366.49,217.89L367.04,218.12L367.59,218.35L368.15,218.58L368.71,218.80L369.27,219.01L369.83,219.22L370.39,219.43L370.96,219.63L371.52,219.83L372.09,220.03L372.66,220.22L373.23,220.41L373.80,220.59L374.37,220.77L374.94,220.95L375.52,221.13L376.09,221.30L376.67,221.47L377.24,221.64L377.82,221.80L378.40,221.96L378.98,222.12L379.56,222.28L380.14,222.43L380.72,222.58L381.30,222.73L381.88,222.87L382.47,223.01L383.05,223.15L383.63,223.29L384.22,223.42L384.80,223.55L385.39,223.68L385.98,223.81L386.56,223.94L387.15,224.07L387.73,224.20L388.32,224.33L388.91,224.46L389.49,224.59L390.08,224.72L390.66,224.85L391.25,224.98L391.83,225.12L392.42,225.25L393.00,225.38L393.59,225.51L394.17,225.65L394.76,225.78L395.34,225.91L395.93,226.04L396.52,226.17L397.10,226.29L397.69,226.42L398.28,226.54L398.86,226.67L399.45,226.79L400.04,226.90L400.63,227.02L401.22,227.14L401.81,227.25L402.39,227.37L402.98,227.48L403.57,227.59L404.16,227.70L404.75,227.81L405.34,227.92L405.93,228.03L406.52,228.13L407.12,228.23L407.71,228.33L408.30,228.43L408.89,228.52L409.48,228.62L410.08,228.71L410.67,228.80L411.26,228.88L411.86,228.97L412.45,229.05L413.05,229.14L413.64,229.22L414.24,229.30L414.83,229.38L415.42,229.46L416.02,229.54L416.62,229.61L417.21,229.69L417.81,229.76L418.40,229.83L419.00,229.90L419.59,229.97L420.19,230.04L420.79,230.10L421.38,230.17L421.98,230.23L422.58,230.28L423.18,230.32L423.70,230.40" fill="none" stroke="#000" stroke-width="3.4" stroke-linejoin="round"/>
<path d="M107.30,212.40L107.88,212.24L108.47,212.18L109.07,212.11L109.67,212.04L110.26,211.96L110.86,211.90L111.45,211.84L112.05,211.80L112.65,211.79L113.25,211.80L113.85,211.84L114.45,211.91L115.04,212.00L115.63,212.10L116.22,212.20L116.81,212.31L117.41,212.40L118.00,212.49L118.60,212.56L119.19,212.62L119.79,212.67L120.39,212.70L120.99,212.71L121.59,212.71L122.19,212.69L122.79,212.65L123.39,212.60L123.98,212.53L124.58,212.44L125.17,212.33L125.75,212.20L126.33,212.05L126.91,211.88L127.48,211.70L128.05,211.50L128.61,211.30L129.18,211.11L129.75,210.92L130.33,210.75L130.91,210.60L131.49,210.46L132.08,210.34L132.66,210.22L133.25,210.10L133.84,209.98L134.43,209.86L135.01,209.72L135.59,209.57L136.17,209.41L136.74,209.23L137.31,209.04L137.87,208.83L138.43,208.60L138.98,208.36L139.52,208.11L140.06,207.83L140.58,207.55L141.10,207.24L141.61,206.92L142.11,206.59L142.60,206.24L143.08,205.88L143.55,205.52L144.02,205.14L144.48,204.76L144.94,204.37L145.39,203.97L145.83,203.57L146.27,203.16L146.70,202.74L147.13,202.32L147.55,201.89L147.97,201.46L148.37,201.02L148.78,200.58L149.17,200.12L149.56,199.67L149.95,199.21L150.33,198.74L150.70,198.28L151.07,197.80L151.44,197.33L151.81,196.85L152.17,196.38L152.53,195.90L152.90,195.42L153.26,194.94L153.62,194.47L153.99,193.99L154.36,193.52L154.73,193.05L155.10,192.58L155.48,192.11L155.86,191.65L156.24,191.18L156.63,190.73L157.02,190.27L157.41,189.82L157.81,189.36L158.20,188.91L158.60,188.46L159.00,188.02L159.40,187.57L159.80,187.12L160.20,186.68L160.60,186.23L161.00,185.78L161.40,185.34L161.80,184.89L162.20,184.44L162.59,183.99L162.98,183.53L163.37,183.07L163.75,182.61L164.13,182.14L164.50,181.67L164.86,181.19L165.21,180.71L165.56,180.22L165.90,179.72L166.23,179.22L166.56,178.72L166.88,178.21L167.19,177.70L167.50,177.18L167.81,176.67L168.11,176.15L168.40,175.63L168.70,175.11L168.99,174.58L169.29,174.06L169.58,173.53L169.87,173.01L170.17,172.49L170.46,171.97L170.76,171.44L171.06,170.92L171.36,170.41L171.66,169.89L171.97,169.37L172.28,168.86L172.59,168.35L172.91,167.84L173.23,167.33L173.55,166.82L173.87,166.31L174.19,165.81L174.52,165.30L174.84,164.80L175.16,164.29L175.49,163.79L175.81,163.28L176.13,162.77L176.45,162.27L176.76,161.76L177.08,161.25L177.39,160.73L177.70,160.22L178.01,159.70L178.31,159.19L178.61,158.67L178.91,158.15L179.21,157.62L179.50,157.10L179.79,156.58L180.08,156.05L180.36,155.52L180.65,154.99L180.93,154.46L181.21,153.93L181.49,153.40L181.77,152.87L182.04,152.34L182.32,151.81L182.61,151.28L182.90,150.75L183.19,150.23L183.49,149.71L183.80,149.20L184.14,148.70L184.49,148.21L184.81,147.72L184.88,147.12L184.94,146.53L185.00,146.00" fill="none" stroke="#000" stroke-width="1.8" stroke-linejoin="round"/>
<path d="M107.30,215.70L107.90,215.70L108.50,215.70L109.10,215.70L109.70,215.70L110.30,215.70L110.90,215.70L111.50,215.70L112.10,215.70L112.70,215.70L113.30,215.70L113.90,215.70L114.50,215.70L115.10,215.70L115.70,215.69L116.30,215.69L116.90,215.69L117.50,215.68L118.10,215.67L118.70,215.66L119.30,215.65L119.90,215.64L120.50,215.62L121.10,215.59L121.70,215.56L122.30,215.52L122.89,215.46L123.49,215.39L124.08,215.30L124.67,215.20L125.26,215.09L125.85,214.97L126.44,214.84L127.02,214.71L127.61,214.57L128.19,214.43L128.78,214.30L129.36,214.17L129.95,214.04L130.54,213.92L131.12,213.80L131.71,213.68L132.30,213.56L132.89,213.44L133.47,213.31L134.06,213.17L134.64,213.02L135.21,212.86L135.79,212.68L136.36,212.49L136.92,212.29L137.48,212.07L138.04,211.84L138.59,211.60L139.13,211.35L139.67,211.08L140.20,210.81L140.73,210.52L141.25,210.24L141.78,209.95L142.31,209.66L142.84,209.39L143.39,209.14L143.85,208.83L144.00,208.40" fill="none" stroke="#000" stroke-width="1.7" stroke-linejoin="round"/>
<path d="M107.30,222.20L107.80,222.22L108.30,222.22L108.80,222.23L109.30,222.24L109.80,222.24L110.30,222.25L110.80,222.26L111.30,222.26L111.80,222.27L112.30,222.27L112.80,222.28L113.30,222.28L113.80,222.28L114.30,222.29L114.80,222.29L115.30,222.29L115.80,222.29L116.30,222.30L116.80,222.30L117.30,222.30L117.80,222.30L118.30,222.30L118.80,222.30L119.30,222.30L119.80,222.30L120.30,222.29L120.80,222.29L121.30,222.28L121.80,222.28L122.30,222.27L122.80,222.26L123.30,222.25L123.80,222.24L124.30,222.22L124.80,222.21L125.30,222.19L125.80,222.18L126.30,222.16L126.80,222.15L127.30,222.13L127.80,222.12L128.30,222.10L128.80,222.09L129.30,222.07L129.80,222.06L130.30,222.05L130.80,222.04L131.30,222.03L131.80,222.02L132.30,222.02L132.80,222.01L133.30,222.01L133.80,222.01L134.30,222.02L134.80,222.02L135.30,222.03L135.80,222.04L136.30,222.06L136.80,222.07L137.30,222.09L137.80,222.11L138.30,222.13L138.80,222.15L139.30,222.18L139.80,222.21L140.30,222.24L140.80,222.27L141.30,222.31L141.80,222.35L142.30,222.39L142.80,222.43L143.30,222.47L143.80,222.50L144.30,222.54L144.80,222.57L145.30,222.60L145.80,222.62L146.30,222.64L146.80,222.66L147.30,222.67L147.80,222.69L148.30,222.71L148.80,222.72L149.30,222.74L149.80,222.75L150.30,222.76L150.80,222.78L151.30,222.79L151.80,222.80L152.30,222.81L152.80,222.82L153.30,222.83L153.80,222.84L154.30,222.85L154.80,222.86L155.30,222.86L155.80,222.87L156.30,222.88L156.80,222.88L157.30,222.89L157.80,222.89L158.30,222.89L158.80,222.89L159.30,222.89L159.80,222.89L160.30,222.89L160.80,222.89L161.30,222.89L161.80,222.88L162.30,222.87L162.80,222.86L163.30,222.85L163.80,222.84L164.30,222.83L164.80,222.81L165.30,222.80L165.80,222.78L166.30,222.76L166.80,222.74L167.30,222.72L167.80,222.70L168.30,222.68L168.80,222.65L169.30,222.62L169.80,222.59L170.30,222.56L170.80,222.53L171.30,222.48L171.80,222.44L172.30,222.39L172.80,222.33L173.30,222.27L173.80,222.20L174.30,222.14L174.80,222.07L175.30,221.99L175.80,221.92L176.30,221.84L176.80,221.77L177.30,221.69L177.80,221.62L178.30,221.54L178.80,221.47L179.30,221.40L179.80,221.33L180.30,221.27L180.80,221.20L181.30,221.13L181.80,221.07L182.30,221.00L182.80,220.93L183.30,220.87L183.80,220.80L184.30,220.74L184.80,220.67L185.30,220.61L185.80,220.55L186.30,220.49L186.80,220.43L187.30,220.37L187.80,220.32L188.30,220.27L188.80,220.22L189.30,220.17L189.80,220.13L190.30,220.09L190.80,220.05L191.30,220.01L191.80,219.98L192.30,219.95L192.80,219.92L193.30,219.89L193.80,219.86L194.30,219.83L194.80,219.81L195.30,219.78L195.80,219.75L196.30,219.72L196.80,219.70L197.30,219.67L197.80,219.64L198.30,219.61L198.80,219.58L199.30,219.54L199.80,219.50L200.30,219.47L200.80,219.43L201.30,219.38L201.80,219.34L202.30,219.29L202.80,219.24L203.30,219.19L203.80,219.14L204.30,219.09L204.80,219.04L205.30,218.98L205.80,218.93L206.30,218.88L206.80,218.82L207.30,218.77L207.80,218.72L208.30,218.67L208.80,218.62L209.30,218.57L209.80,218.52L210.30,218.48L210.80,218.43L211.30,218.39L211.80,218.35L212.30,218.30L212.80,218.26L213.30,218.22L213.80,218.18L214.30,218.14L214.80,218.10L215.30,218.06L215.80,218.02L216.30,217.98L216.80,217.94L217.30,217.90L217.80,217.87L218.30,217.83L218.80,217.79L219.30,217.75L219.80,217.72L220.30,217.68L220.80,217.64L221.30,217.60L221.80,217.57L222.30,217.53L222.80,217.50L223.30,217.46L223.80,217.42L224.30,217.39L224.80,217.35L225.30,217.32L225.80,217.28L226.30,217.25L226.80,217.21L227.30,217.18L227.80,217.15L228.30,217.11L228.80,217.08L229.30,217.05L229.80,217.01L230.30,216.98L230.80,216.95L231.30,216.92L231.80,216.88L232.30,216.85L232.80,216.82L233.30,216.79L233.80,216.75L234.30,216.72L234.80,216.69L235.30,216.66L235.80,216.63L236.30,216.60L236.80,216.57L237.30,216.54L237.80,216.52L238.30,216.49L238.80,216.46L239.30,216.44L239.80,216.41L240.30,216.38L240.80,216.36L241.30,216.34L241.80,216.31L242.30,216.29L242.80,216.27L243.30,216.25L243.80,216.24L244.30,216.23L244.80,216.23L245.30,216.23L245.80,216.24L246.30,216.25L246.80,216.28L247.30,216.30L247.80,216.33L248.30,216.37L248.80,216.41L249.30,216.46L249.80,216.52L250.30,216.59L250.80,216.66L251.30,216.75L251.80,216.84L252.30,216.94L252.80,217.06L253.30,217.18L253.80,217.30L254.30,217.42L254.80,217.55L255.30,217.68L255.80,217.82L256.30,217.95L256.80,218.09L257.30,218.23L257.80,218.37L258.30,218.51L258.80,218.66L259.30,218.80L259.80,218.94L260.30,219.08L260.80,219.23L261.30,219.37L261.80,219.51L262.30,219.65L262.80,219.79L263.30,219.93L263.80,220.07L264.30,220.20L264.80,220.34L265.30,220.48L265.80,220.61L266.30,220.74L266.80,220.87L267.30,221.00L267.80,221.14L268.30,221.27L268.80,221.39L269.30,221.52L269.80,221.65L270.30,221.78L270.80,221.90L271.30,222.02L271.80,222.15L272.30,222.27L272.80,222.39L273.30,222.50L273.80,222.62L274.30,222.74L274.80,222.85L275.30,222.96L275.80,223.07L276.30,223.18L276.80,223.29L277.30,223.40L277.80,223.51L278.30,223.62L278.80,223.72L279.30,223.83L279.80,223.93L280.30,224.03L280.80,224.13L281.30,224.23L281.80,224.33L282.30,224.42L282.80,224.51L283.30,224.60L283.80,224.69L284.30,224.77L284.80,224.86L285.30,224.94L285.80,225.01L286.30,225.09L286.80,225.16L287.30,225.23L287.80,225.30L288.30,225.36L288.80,225.43L289.30,225.49L289.80,225.56L290.30,225.62L290.80,225.68L291.30,225.74L291.80,225.80L292.30,225.86L292.80,225.93L293.30,225.99L293.80,226.05L294.30,226.11L294.80,226.18L295.30,226.24L295.80,226.31L296.30,226.37L296.80,226.44L297.30,226.51L297.80,226.57L298.30,226.64L298.80,226.71L299.30,226.78L299.80,226.84L300.30,226.91L300.80,226.98L301.30,227.04L301.80,227.11L302.30,227.17L302.80,227.23L303.30,227.29L303.80,227.35L304.30,227.41L304.80,227.47L305.30,227.53L305.80,227.59L306.30,227.64L306.80,227.70L307.30,227.75L307.80,227.80L308.30,227.85L308.80,227.91L309.30,227.96L309.80,228.01L310.30,228.06L310.80,228.11L311.30,228.16L311.80,228.20L312.30,228.25L312.80,228.30L313.30,228.34L313.80,228.39L314.30,228.44L314.80,228.48L315.30,228.53L315.80,228.57L316.30,228.62L316.80,228.66L317.30,228.71L317.80,228.75L318.30,228.79L318.80,228.84L319.30,228.88L319.80,228.92L320.30,228.97L320.80,229.01L321.30,229.05L321.80,229.08L322.30,229.12L322.80,229.16L323.30,229.19L323.80,229.22L324.30,229.25L324.80,229.28L325.30,229.31L325.80,229.34L326.30,229.36L326.80,229.39L327.30,229.41L327.80,229.43L328.30,229.45L328.80,229.48L329.30,229.50L329.80,229.52L330.30,229.54L330.80,229.55L331.30,229.57L331.80,229.59L332.30,229.61L332.80,229.63L333.30,229.64L333.80,229.66L334.30,229.68L334.80,229.69L335.30,229.71L335.80,229.72L336.30,229.74L336.80,229.76L337.30,229.77L337.80,229.79L338.30,229.80L338.80,229.82L339.30,229.83L339.80,229.85L340.30,229.86L340.80,229.87L341.30,229.89L341.80,229.90L342.30,229.92L342.80,229.93L343.30,229.94L343.80,229.95L344.30,229.97L344.80,229.98L345.30,229.99L345.80,230.00L346.30,230.02L346.80,230.03L347.30,230.04L347.80,230.05L348.30,230.06L348.80,230.07L349.30,230.08L349.80,230.10L350.30,230.11L350.80,230.12L351.30,230.13L351.80,230.14L352.30,230.15L352.80,230.16L353.30,230.17L353.80,230.18L354.30,230.19L354.80,230.19L355.30,230.20L355.80,230.21L356.30,230.22L356.80,230.23L357.30,230.24L357.80,230.25L358.30,230.26L358.80,230.27L359.30,230.28L359.80,230.28L360.30,230.29L360.80,230.30L361.30,230.31L361.80,230.32L362.30,230.33L362.80,230.33L363.30,230.34L363.80,230.35L364.30,230.36L364.80,230.37L365.30,230.37L365.80,230.38L366.30,230.39L366.80,230.40L367.30,230.41L367.80,230.41L368.30,230.42L368.80,230.43L369.30,230.44L369.80,230.44L370.30,230.45L370.80,230.46L371.30,230.47L371.80,230.47L372.30,230.48L372.80,230.49L373.30,230.50L373.80,230.50L374.30,230.51L374.80,230.52L375.30,230.53L375.80,230.54L376.30,230.54L376.80,230.55L377.30,230.56L377.80,230.57L378.30,230.57L378.80,230.58L379.30,230.59L379.80,230.60L380.30,230.60L380.80,230.61L381.30,230.62L381.80,230.63L382.30,230.64L382.80,230.64L383.30,230.65L383.80,230.66L384.30,230.67L384.80,230.67L385.30,230.68L385.80,230.69L386.30,230.70L386.80,230.70L387.30,230.71L387.80,230.72L388.30,230.72L388.80,230.73L389.30,230.74L389.80,230.75L390.30,230.75L390.80,230.76L391.30,230.77L391.80,230.78L392.30,230.78L392.80,230.79L393.30,230.80L393.80,230.81L394.30,230.81L394.80,230.82L395.30,230.83L395.80,230.84L396.30,230.84L396.80,230.85L397.30,230.86L397.80,230.87L398.30,230.87L398.80,230.88L399.30,230.89L399.80,230.90L400.30,230.90L400.80,230.91L401.30,230.92L401.80,230.93L402.30,230.94L402.80,230.94L403.30,230.95L403.80,230.96L404.30,230.97L404.80,230.98L405.30,230.99L405.80,230.99L406.30,231.00L406.80,231.01L407.30,231.02L407.80,231.03L408.30,231.03L408.80,231.04L409.30,231.05L409.80,231.06L410.30,231.07L410.80,231.08L411.30,231.08L411.80,231.09L412.30,231.10L412.80,231.11L413.30,231.12L413.80,231.13L414.30,231.14L414.80,231.14L415.30,231.15L415.80,231.16L416.30,231.17L416.80,231.18L417.30,231.19L417.80,231.20L418.30,231.20L418.80,231.21L419.30,231.22L419.80,231.23L420.30,231.24L420.80,231.25L421.30,231.26L421.80,231.26L422.30,231.27L422.80,231.28L423.30,231.29L423.70,231.30" fill="none" stroke="#000" stroke-width="1.9" stroke-linejoin="round"/>
<line x1="254.7" y1="50.6" x2="271.9" y2="46.2" stroke="#333" stroke-width="0.9"/>
<text x="274.5" y="47.5" xml:space="preserve" font-family='"Liberation Sans", sans-serif' font-weight="bold" stroke="#000" stroke-width="0.2" font-size="8.9">Ag(I), Ba(II), Ca(II), Cd(II), Co(II),</text>
<text x="274.5" y="72.0" xml:space="preserve" font-family='"Liberation Sans", sans-serif' font-weight="bold" stroke="#000" stroke-width="0.2" font-size="8.9">Cu(II),&#160; Fe(III), Mn(II), Na(I), Ni(II),</text>
<text x="284.0" y="96.6" xml:space="preserve" font-family='"Liberation Sans", sans-serif' font-weight="bold" stroke="#000" stroke-width="0.2" font-size="8.9">Pb(II), Zn(II), Fe(II) and 4 Only</text>
<text x="237.2" y="212.1" font-family='"Liberation Sans", sans-serif' font-weight="bold" stroke="#000" stroke-width="0.2" font-size="8.8">Hg(II)</text>
<line x1="95.0" y1="508.30" x2="98.4" y2="508.30" stroke="#8a8a8a" stroke-width="1"/>
<text x="89.2" y="512.10" text-anchor="end" font-family='"Liberation Sans", sans-serif' font-weight="bold" stroke="#000" stroke-width="0.2" font-size="10.5">0.0</text>
<line x1="95.0" y1="473.58" x2="98.4" y2="473.58" stroke="#8a8a8a" stroke-width="1"/>
<text x="89.2" y="477.38" text-anchor="end" font-family='"Liberation Sans", sans-serif' font-weight="bold" stroke="#000" stroke-width="0.2" font-size="10.5">0.2</text>
<line x1="95.0" y1="438.86" x2="98.4" y2="438.86" stroke="#8a8a8a" stroke-width="1"/>
<text x="89.2" y="442.66" text-anchor="end" font-family='"Liberation Sans", sans-serif' font-weight="bold" stroke="#000" stroke-width="0.2" font-size="10.5">0.4</text>
<line x1="95.0" y1="404.14" x2="98.4" y2="404.14" stroke="#8a8a8a" stroke-width="1"/>
<text x="89.2" y="407.94" text-anchor="end" font-family='"Liberation Sans", sans-serif' font-weight="bold" stroke="#000" stroke-width="0.2" font-size="10.5">0.6</text>
<line x1="95.0" y1="369.42" x2="98.4" y2="369.42" stroke="#8a8a8a" stroke-width="1"/>
<text x="89.2" y="373.22" text-anchor="end" font-family='"Liberation Sans", sans-serif' font-weight="bold" stroke="#000" stroke-width="0.2" font-size="10.5">0.8</text>
<line x1="95.0" y1="334.70" x2="98.4" y2="334.70" stroke="#8a8a8a" stroke-width="1"/>
<text x="89.2" y="338.50" text-anchor="end" font-family='"Liberation Sans", sans-serif' font-weight="bold" stroke="#000" stroke-width="0.2" font-size="10.5">1.0</text>
<line x1="95.0" y1="299.98" x2="98.4" y2="299.98" stroke="#8a8a8a" stroke-width="1"/>
<text x="89.2" y="303.78" text-anchor="end" font-family='"Liberation Sans", sans-serif' font-weight="bold" stroke="#000" stroke-width="0.2" font-size="10.5">1.2</text>
<line x1="98.40" y1="508.3" x2="98.40" y2="511.7" stroke="#8a8a8a" stroke-width="1"/>
<text x="98.40" y="528.4" text-anchor="middle" font-family='"Liberation Sans", sans-serif' font-weight="bold" stroke="#000" stroke-width="0.2" font-size="10.5">0.0</text>
<line x1="145.12" y1="508.3" x2="145.12" y2="511.7" stroke="#8a8a8a" stroke-width="1"/>
<text x="145.12" y="528.4" text-anchor="middle" font-family='"Liberation Sans", sans-serif' font-weight="bold" stroke="#000" stroke-width="0.2" font-size="10.5">0.2</text>
<line x1="191.84" y1="508.3" x2="191.84" y2="511.7" stroke="#8a8a8a" stroke-width="1"/>
<text x="191.84" y="528.4" text-anchor="middle" font-family='"Liberation Sans", sans-serif' font-weight="bold" stroke="#000" stroke-width="0.2" font-size="10.5">0.4</text>
<line x1="238.56" y1="508.3" x2="238.56" y2="511.7" stroke="#8a8a8a" stroke-width="1"/>
<text x="238.56" y="528.4" text-anchor="middle" font-family='"Liberation Sans", sans-serif' font-weight="bold" stroke="#000" stroke-width="0.2" font-size="10.5">0.6</text>
<line x1="285.28" y1="508.3" x2="285.28" y2="511.7" stroke="#8a8a8a" stroke-width="1"/>
<text x="285.28" y="528.4" text-anchor="middle" font-family='"Liberation Sans", sans-serif' font-weight="bold" stroke="#000" stroke-width="0.2" font-size="10.5">0.8</text>
<line x1="332.00" y1="508.3" x2="332.00" y2="511.7" stroke="#8a8a8a" stroke-width="1"/>
<text x="332.00" y="528.4" text-anchor="middle" font-family='"Liberation Sans", sans-serif' font-weight="bold" stroke="#000" stroke-width="0.2" font-size="10.5">1.0</text>
<line x1="378.72" y1="508.3" x2="378.72" y2="511.7" stroke="#8a8a8a" stroke-width="1"/>
<text x="378.72" y="528.4" text-anchor="middle" font-family='"Liberation Sans", sans-serif' font-weight="bold" stroke="#000" stroke-width="0.2" font-size="10.5">1.2</text>
<line x1="425.44" y1="508.3" x2="425.44" y2="511.7" stroke="#8a8a8a" stroke-width="1"/>
<text x="425.44" y="528.4" text-anchor="middle" font-family='"Liberation Sans", sans-serif' font-weight="bold" stroke="#000" stroke-width="0.2" font-size="10.5">1.4</text>
<rect x="98.4" y="300.0" width="327.0" height="208.3" fill="none" stroke="#000" stroke-width="1.3"/>
<text x="258.8" y="546.9" text-anchor="middle" font-family='"Liberation Sans", sans-serif' font-weight="bold" stroke="#000" stroke-width="0.2" font-size="11.9">Ion Concentration (μM)</text>
<text transform="translate(61.5,403.2) rotate(-90)" text-anchor="middle" font-family='"Liberation Sans", sans-serif' font-weight="bold" stroke="#000" stroke-width="0.2" font-size="12">Normalized Fluorescence Intensity</text>
<circle cx="98.40" cy="334.70" r="2.80" fill="#000080"/>
<circle cx="113.98" cy="334.18" r="2.80" fill="#000080"/>
<circle cx="129.54" cy="340.43" r="2.80" fill="#000080"/>
<circle cx="145.12" cy="335.57" r="2.80" fill="#000080"/>
<circle cx="160.70" cy="348.59" r="2.80" fill="#000080"/>
<circle cx="176.26" cy="378.79" r="2.80" fill="#000080"/>
<circle cx="191.84" cy="406.74" r="2.80" fill="#000080"/>
<circle cx="207.42" cy="440.25" r="2.80" fill="#000080"/>
<circle cx="222.98" cy="460.73" r="2.80" fill="#000080"/>
<circle cx="238.56" cy="479.48" r="2.80" fill="#000080"/>
<circle cx="254.14" cy="486.25" r="2.80" fill="#000080"/>
<circle cx="332.00" cy="492.33" r="2.80" fill="#000080"/>
<circle cx="409.86" cy="493.37" r="2.80" fill="#000080"/>
<rect x="96.10" y="332.40" width="4.60" height="4.60" fill="#ff00ff"/>
<rect x="127.24" y="330.66" width="4.60" height="4.60" fill="#ff00ff"/>
<rect x="158.40" y="331.53" width="4.60" height="4.60" fill="#ff00ff"/>
<rect x="189.54" y="330.66" width="4.60" height="4.60" fill="#ff00ff"/>
<rect x="220.68" y="328.93" width="4.60" height="4.60" fill="#ff00ff"/>
<rect x="251.84" y="332.40" width="4.60" height="4.60" fill="#ff00ff"/>
<rect x="329.70" y="332.40" width="4.60" height="4.60" fill="#ff00ff"/>
<path d="M98.40,331.70 L101.55,337.25 L95.25,337.25 Z" fill="#ffff00"/>
<path d="M129.54,336.04 L132.69,341.59 L126.39,341.59 Z" fill="#ffff00"/>
<path d="M160.70,336.91 L163.85,342.46 L157.55,342.46 Z" fill="#ffff00"/>
<path d="M191.84,334.30 L194.99,339.85 L188.69,339.85 Z" fill="#ffff00"/>
<path d="M222.98,333.44 L226.13,338.99 L219.83,338.99 Z" fill="#ffff00"/>
<path d="M254.14,336.91 L257.29,342.46 L250.99,342.46 Z" fill="#ffff00"/>
<path d="M332.00,333.44 L335.15,338.99 L328.85,338.99 Z" fill="#ffff00"/>
<path d="M95.40,331.70 L101.40,337.70 M101.40,331.70 L95.40,337.70" stroke="#00ffff" stroke-width="1.1" fill="none"/>
<path d="M126.54,334.30 L132.54,340.30 M132.54,334.30 L126.54,340.30" stroke="#00ffff" stroke-width="1.1" fill="none"/>
<path d="M157.70,329.96 L163.70,335.96 M163.70,329.96 L157.70,335.96" stroke="#00ffff" stroke-width="1.1" fill="none"/>
<path d="M188.84,337.26 L194.84,343.26 M194.84,337.26 L188.84,343.26" stroke="#00ffff" stroke-width="1.1" fill="none"/>
<path d="M219.98,336.04 L225.98,342.04 M225.98,336.04 L219.98,342.04" stroke="#00ffff" stroke-width="1.1" fill="none"/>
<path d="M251.14,333.44 L257.14,339.44 M257.14,333.44 L251.14,339.44" stroke="#00ffff" stroke-width="1.1" fill="none"/>
<path d="M329.00,335.17 L335.00,341.17 M335.00,335.17 L329.00,341.17" stroke="#00ffff" stroke-width="1.1" fill="none"/>
<path d="M96.40,332.70 L100.40,336.70 M100.40,332.70 L96.40,336.70 M98.40,332.70 L98.40,336.70" stroke="#800080" stroke-width="1.1" fill="none"/>
<path d="M127.54,335.30 L131.54,339.30 M131.54,335.30 L127.54,339.30 M129.54,335.30 L129.54,339.30" stroke="#800080" stroke-width="1.1" fill="none"/>
<path d="M158.70,332.70 L162.70,336.70 M162.70,332.70 L158.70,336.70 M160.70,332.70 L160.70,336.70" stroke="#800080" stroke-width="1.1" fill="none"/>
<path d="M189.84,338.26 L193.84,342.26 M193.84,338.26 L189.84,342.26 M191.84,338.26 L191.84,342.26" stroke="#800080" stroke-width="1.1" fill="none"/>
<path d="M220.98,334.44 L224.98,338.44 M224.98,334.44 L220.98,338.44 M222.98,334.44 L222.98,338.44" stroke="#800080" stroke-width="1.1" fill="none"/>
<path d="M252.14,334.44 L256.14,338.44 M256.14,334.44 L252.14,338.44 M254.14,334.44 L254.14,338.44" stroke="#800080" stroke-width="1.1" fill="none"/>
<path d="M330.00,336.17 L334.00,340.17 M334.00,336.17 L330.00,340.17 M332.00,336.17 L332.00,340.17" stroke="#800080" stroke-width="1.1" fill="none"/>
<circle cx="98.40" cy="334.70" r="2.80" fill="#800000"/>
<circle cx="129.54" cy="332.96" r="2.80" fill="#800000"/>
<circle cx="160.70" cy="334.70" r="2.80" fill="#800000"/>
<circle cx="191.84" cy="329.32" r="2.80" fill="#800000"/>
<circle cx="222.98" cy="328.97" r="2.80" fill="#800000"/>
<circle cx="254.14" cy="334.70" r="2.80" fill="#800000"/>
<circle cx="332.00" cy="332.96" r="2.80" fill="#800000"/>
<path d="M95.40,334.70 L101.40,334.70 M98.40,331.70 L98.40,337.70" stroke="#008080" stroke-width="1.1" fill="none"/>
<path d="M126.54,336.44 L132.54,336.44 M129.54,333.44 L129.54,339.44" stroke="#008080" stroke-width="1.1" fill="none"/>
<path d="M157.70,334.70 L163.70,334.70 M160.70,331.70 L160.70,337.70" stroke="#008080" stroke-width="1.1" fill="none"/>
<path d="M188.84,336.44 L194.84,336.44 M191.84,333.44 L191.84,339.44" stroke="#008080" stroke-width="1.1" fill="none"/>
<path d="M219.98,336.44 L225.98,336.44 M222.98,333.44 L222.98,339.44" stroke="#008080" stroke-width="1.1" fill="none"/>
<path d="M251.14,334.70 L257.14,334.70 M254.14,331.70 L254.14,337.70" stroke="#008080" stroke-width="1.1" fill="none"/>
<path d="M329.00,336.44 L335.00,336.44 M332.00,333.44 L332.00,339.44" stroke="#008080" stroke-width="1.1" fill="none"/>
<path d="M97.00,334.70 L99.80,334.70" stroke="#0000ff" stroke-width="1.3" fill="none"/>
<path d="M128.14,334.70 L130.94,334.70" stroke="#0000ff" stroke-width="1.3" fill="none"/>
<path d="M159.30,332.96 L162.10,332.96" stroke="#0000ff" stroke-width="1.3" fill="none"/>
<path d="M190.44,339.04 L193.24,339.04" stroke="#0000ff" stroke-width="1.3" fill="none"/>
<path d="M221.58,334.70 L224.38,334.70" stroke="#0000ff" stroke-width="1.3" fill="none"/>
<path d="M252.74,334.70 L255.54,334.70" stroke="#0000ff" stroke-width="1.3" fill="none"/>
<path d="M330.60,334.70 L333.40,334.70" stroke="#0000ff" stroke-width="1.3" fill="none"/>
<path d="M95.80,334.70 L101.00,334.70" stroke="#800000" stroke-width="1.3" fill="none"/>
<path d="M126.94,334.70 L132.14,334.70" stroke="#800000" stroke-width="1.3" fill="none"/>
<path d="M158.10,334.70 L163.30,334.70" stroke="#800000" stroke-width="1.3" fill="none"/>
<path d="M189.24,331.23 L194.44,331.23" stroke="#800000" stroke-width="1.3" fill="none"/>
<path d="M220.38,331.23 L225.58,331.23" stroke="#800000" stroke-width="1.3" fill="none"/>
<path d="M251.54,334.70 L256.74,334.70" stroke="#800000" stroke-width="1.3" fill="none"/>
<path d="M329.40,332.96 L334.60,332.96" stroke="#800000" stroke-width="1.3" fill="none"/>
<path d="M98.40,331.70 L101.40,334.70 L98.40,337.70 L95.40,334.70 Z" fill="#99cc00"/>
<path d="M129.54,330.83 L132.54,333.83 L129.54,336.83 L126.54,333.83 Z" fill="#99cc00"/>
<path d="M160.70,329.96 L163.70,332.96 L160.70,335.96 L157.70,332.96 Z" fill="#99cc00"/>
<path d="M191.84,334.30 L194.84,337.30 L191.84,340.30 L188.84,337.30 Z" fill="#99cc00"/>
<path d="M222.98,331.70 L225.98,334.70 L222.98,337.70 L219.98,334.70 Z" fill="#99cc00"/>
<path d="M254.14,328.23 L257.14,331.23 L254.14,334.23 L251.14,331.23 Z" fill="#99cc00"/>
<path d="M332.00,328.23 L335.00,331.23 L332.00,334.23 L329.00,331.23 Z" fill="#99cc00"/>
<rect x="96.50" y="332.80" width="3.80" height="3.80" fill="#9999ff"/>
<rect x="127.64" y="333.67" width="3.80" height="3.80" fill="#9999ff"/>
<rect x="158.80" y="329.33" width="3.80" height="3.80" fill="#9999ff"/>
<rect x="189.94" y="327.59" width="3.80" height="3.80" fill="#9999ff"/>
<rect x="221.08" y="328.46" width="3.80" height="3.80" fill="#9999ff"/>
<rect x="252.24" y="332.80" width="3.80" height="3.80" fill="#9999ff"/>
<rect x="330.10" y="331.06" width="3.80" height="3.80" fill="#9999ff"/>
<path d="M98.40,331.70 L101.55,337.25 L95.25,337.25 Z" fill="#969696"/>
<path d="M129.54,332.57 L132.69,338.12 L126.39,338.12 Z" fill="#969696"/>
<path d="M160.70,328.23 L163.85,333.78 L157.55,333.78 Z" fill="#969696"/>
<path d="M191.84,329.96 L194.99,335.51 L188.69,335.51 Z" fill="#969696"/>
<path d="M222.98,331.70 L226.13,337.25 L219.83,337.25 Z" fill="#969696"/>
<path d="M254.14,331.70 L257.29,337.25 L250.99,337.25 Z" fill="#969696"/>
<path d="M332.00,331.70 L335.15,337.25 L328.85,337.25 Z" fill="#969696"/>
<path d="M98.40,331.70 L101.40,334.70 L98.40,337.70 L95.40,334.70 Z" fill="#ff8080"/>
<path d="M129.54,327.19 L132.54,330.19 L129.54,333.19 L126.54,330.19 Z" fill="#ff8080"/>
<path d="M160.70,335.17 L163.70,338.17 L160.70,341.17 L157.70,338.17 Z" fill="#ff8080"/>
<path d="M191.84,332.92 L194.84,335.92 L191.84,338.92 L188.84,335.92 Z" fill="#ff8080"/>
<path d="M222.98,332.92 L225.98,335.92 L222.98,338.92 L219.98,335.92 Z" fill="#ff8080"/>
<path d="M254.14,333.44 L257.14,336.44 L254.14,339.44 L251.14,336.44 Z" fill="#ff8080"/>
<path d="M332.00,331.70 L335.00,334.70 L332.00,337.70 L329.00,334.70 Z" fill="#ff8080"/>
<rect x="96.10" y="332.40" width="4.60" height="4.60" fill="#99cc00"/>
<rect x="127.24" y="331.01" width="4.60" height="4.60" fill="#99cc00"/>
<rect x="158.40" y="332.40" width="4.60" height="4.60" fill="#99cc00"/>
<rect x="189.54" y="330.14" width="4.60" height="4.60" fill="#99cc00"/>
<rect x="220.68" y="331.53" width="4.60" height="4.60" fill="#99cc00"/>
<rect x="251.84" y="330.66" width="4.60" height="4.60" fill="#99cc00"/>
<rect x="329.70" y="329.80" width="4.60" height="4.60" fill="#99cc00"/>
<rect x="381.6" y="306.5" width="36.0" height="170.5" fill="#fff" stroke="#c8c8c8" stroke-width="1"/>
<circle cx="388.20" cy="313.10" r="2.80" fill="#000080"/>
<text x="393.70 399.91 404.69" y="316.10" font-family='"Liberation Sans", sans-serif' font-size="8.6" fill="#111" stroke="#111" stroke-width="0.25">Hg(</text>
<rect x="407.65" y="310.20" width="4.50" height="0.85" fill="#111"/><rect x="407.65" y="315.25" width="4.50" height="0.85" fill="#111"/><rect x="408.30" y="310.20" width="1.0" height="5.90" fill="#111"/><rect x="410.50" y="310.20" width="1.0" height="5.90" fill="#111"/>
<text x="412.25" y="316.10" font-family='"Liberation Sans", sans-serif' font-size="8.6" fill="#111" stroke="#111" stroke-width="0.25">)</text>
<rect x="385.90" y="322.92" width="4.60" height="4.60" fill="#ff00ff"/>
<text x="393.70 399.44 404.22" y="328.22" font-family='"Liberation Sans", sans-serif' font-size="8.6" fill="#111" stroke="#111" stroke-width="0.25">Ag(</text>
<rect x="407.18" y="322.32" width="2.60" height="0.85" fill="#111"/><rect x="407.18" y="327.37" width="2.60" height="0.85" fill="#111"/><rect x="407.98" y="322.32" width="1.0" height="5.90" fill="#111"/>
<text x="409.88" y="328.22" font-family='"Liberation Sans", sans-serif' font-size="8.6" fill="#111" stroke="#111" stroke-width="0.25">)</text>
<path d="M388.20,334.34 L391.35,339.89 L385.05,339.89 Z" fill="#ffff00"/>
<text x="393.70 399.44 404.22" y="340.34" font-family='"Liberation Sans", sans-serif' font-size="8.6" fill="#111" stroke="#111" stroke-width="0.25">Ba(</text>
<rect x="407.18" y="334.44" width="4.50" height="0.85" fill="#111"/><rect x="407.18" y="339.49" width="4.50" height="0.85" fill="#111"/><rect x="407.83" y="334.44" width="1.0" height="5.90" fill="#111"/><rect x="410.03" y="334.44" width="1.0" height="5.90" fill="#111"/>
<text x="411.78" y="340.34" font-family='"Liberation Sans", sans-serif' font-size="8.6" fill="#111" stroke="#111" stroke-width="0.25">)</text>
<path d="M385.20,346.46 L391.20,352.46 M391.20,346.46 L385.20,352.46" stroke="#00ffff" stroke-width="1.1" fill="none"/>
<text x="393.70 400.81 405.59" y="352.46" font-family='"Liberation Sans", sans-serif' font-size="8.6" fill="#111" stroke="#111" stroke-width="0.25">Ca(</text>
<rect x="408.55" y="346.56" width="4.50" height="0.85" fill="#111"/><rect x="408.55" y="351.61" width="4.50" height="0.85" fill="#111"/><rect x="409.20" y="346.56" width="1.0" height="5.90" fill="#111"/><rect x="411.40" y="346.56" width="1.0" height="5.90" fill="#111"/>
<text x="413.15" y="352.46" font-family='"Liberation Sans", sans-serif' font-size="8.6" fill="#111" stroke="#111" stroke-width="0.25">)</text>
<path d="M386.20,359.58 L390.20,363.58 M390.20,359.58 L386.20,363.58 M388.20,359.58 L388.20,363.58" stroke="#800080" stroke-width="1.1" fill="none"/>
<text x="393.70 400.81 405.59" y="364.58" font-family='"Liberation Sans", sans-serif' font-size="8.6" fill="#111" stroke="#111" stroke-width="0.25">Cd(</text>
<rect x="408.55" y="358.68" width="4.50" height="0.85" fill="#111"/><rect x="408.55" y="363.73" width="4.50" height="0.85" fill="#111"/><rect x="409.20" y="358.68" width="1.0" height="5.90" fill="#111"/><rect x="411.40" y="358.68" width="1.0" height="5.90" fill="#111"/>
<text x="413.15" y="364.58" font-family='"Liberation Sans", sans-serif' font-size="8.6" fill="#111" stroke="#111" stroke-width="0.25">)</text>
<circle cx="388.20" cy="373.70" r="2.80" fill="#800000"/>
<text x="393.70 400.81 405.59" y="376.70" font-family='"Liberation Sans", sans-serif' font-size="8.6" fill="#111" stroke="#111" stroke-width="0.25">Co(</text>
<rect x="408.55" y="370.80" width="4.50" height="0.85" fill="#111"/><rect x="408.55" y="375.85" width="4.50" height="0.85" fill="#111"/><rect x="409.20" y="370.80" width="1.0" height="5.90" fill="#111"/><rect x="411.40" y="370.80" width="1.0" height="5.90" fill="#111"/>
<text x="413.15" y="376.70" font-family='"Liberation Sans", sans-serif' font-size="8.6" fill="#111" stroke="#111" stroke-width="0.25">)</text>
<path d="M385.20,385.82 L391.20,385.82 M388.20,382.82 L388.20,388.82" stroke="#008080" stroke-width="1.1" fill="none"/>
<text x="393.70 400.81 405.59" y="388.82" font-family='"Liberation Sans", sans-serif' font-size="8.6" fill="#111" stroke="#111" stroke-width="0.25">Cu(</text>
<rect x="408.55" y="382.92" width="4.50" height="0.85" fill="#111"/><rect x="408.55" y="387.97" width="4.50" height="0.85" fill="#111"/><rect x="409.20" y="382.92" width="1.0" height="5.90" fill="#111"/><rect x="411.40" y="382.92" width="1.0" height="5.90" fill="#111"/>
<text x="413.15" y="388.82" font-family='"Liberation Sans", sans-serif' font-size="8.6" fill="#111" stroke="#111" stroke-width="0.25">)</text>
<path d="M386.80,397.94 L389.60,397.94" stroke="#0000ff" stroke-width="1.3" fill="none"/>
<text x="393.70 398.95 403.74" y="400.94" font-family='"Liberation Sans", sans-serif' font-size="8.6" fill="#111" stroke="#111" stroke-width="0.25">Fe(</text>
<rect x="406.70" y="395.04" width="6.30" height="0.85" fill="#111"/><rect x="406.70" y="400.09" width="6.30" height="0.85" fill="#111"/><rect x="407.30" y="395.04" width="1.0" height="5.90" fill="#111"/><rect x="409.35" y="395.04" width="1.0" height="5.90" fill="#111"/><rect x="411.40" y="395.04" width="1.0" height="5.90" fill="#111"/>
<text x="413.10" y="400.94" font-family='"Liberation Sans", sans-serif' font-size="8.6" fill="#111" stroke="#111" stroke-width="0.25">)</text>
<path d="M385.60,410.06 L390.80,410.06" stroke="#800000" stroke-width="1.3" fill="none"/>
<text x="393.70 400.86 405.65" y="413.06" font-family='"Liberation Sans", sans-serif' font-size="8.6" fill="#111" stroke="#111" stroke-width="0.25">Mn(</text>
<rect x="408.61" y="407.16" width="4.50" height="0.85" fill="#111"/><rect x="408.61" y="412.21" width="4.50" height="0.85" fill="#111"/><rect x="409.26" y="407.16" width="1.0" height="5.90" fill="#111"/><rect x="411.46" y="407.16" width="1.0" height="5.90" fill="#111"/>
<text x="413.21" y="413.06" font-family='"Liberation Sans", sans-serif' font-size="8.6" fill="#111" stroke="#111" stroke-width="0.25">)</text>
<path d="M388.20,419.18 L391.20,422.18 L388.20,425.18 L385.20,422.18 Z" fill="#99cc00"/>
<text x="393.70 399.91 404.69" y="425.18" font-family='"Liberation Sans", sans-serif' font-size="8.6" fill="#111" stroke="#111" stroke-width="0.25">Na(</text>
<rect x="407.65" y="419.28" width="2.60" height="0.85" fill="#111"/><rect x="407.65" y="424.33" width="2.60" height="0.85" fill="#111"/><rect x="408.45" y="419.28" width="1.0" height="5.90" fill="#111"/>
<text x="410.35" y="425.18" font-family='"Liberation Sans", sans-serif' font-size="8.6" fill="#111" stroke="#111" stroke-width="0.25">)</text>
<rect x="386.30" y="432.40" width="3.80" height="3.80" fill="#9999ff"/>
<text x="393.70 399.91 401.82" y="437.30" font-family='"Liberation Sans", sans-serif' font-size="8.6" fill="#111" stroke="#111" stroke-width="0.25">Ni(</text>
<rect x="404.78" y="431.40" width="4.50" height="0.85" fill="#111"/><rect x="404.78" y="436.45" width="4.50" height="0.85" fill="#111"/><rect x="405.43" y="431.40" width="1.0" height="5.90" fill="#111"/><rect x="407.63" y="431.40" width="1.0" height="5.90" fill="#111"/>
<text x="409.38" y="437.30" font-family='"Liberation Sans", sans-serif' font-size="8.6" fill="#111" stroke="#111" stroke-width="0.25">)</text>
<path d="M388.20,443.42 L391.35,448.97 L385.05,448.97 Z" fill="#969696"/>
<text x="393.70 400.34 405.12" y="449.42" font-family='"Liberation Sans", sans-serif' font-size="8.6" fill="#111" stroke="#111" stroke-width="0.25">Pb(</text>
<rect x="408.08" y="443.52" width="4.50" height="0.85" fill="#111"/><rect x="408.08" y="448.57" width="4.50" height="0.85" fill="#111"/><rect x="408.73" y="443.52" width="1.0" height="5.90" fill="#111"/><rect x="410.93" y="443.52" width="1.0" height="5.90" fill="#111"/>
<text x="412.68" y="449.42" font-family='"Liberation Sans", sans-serif' font-size="8.6" fill="#111" stroke="#111" stroke-width="0.25">)</text>
<path d="M388.20,455.54 L391.20,458.54 L388.20,461.54 L385.20,458.54 Z" fill="#ff8080"/>
<text x="393.70 398.95 403.74" y="461.54" font-family='"Liberation Sans", sans-serif' font-size="8.6" fill="#111" stroke="#111" stroke-width="0.25">Zn(</text>
<rect x="406.70" y="455.64" width="4.50" height="0.85" fill="#111"/><rect x="406.70" y="460.69" width="4.50" height="0.85" fill="#111"/><rect x="407.35" y="455.64" width="1.0" height="5.90" fill="#111"/><rect x="409.55" y="455.64" width="1.0" height="5.90" fill="#111"/>
<text x="411.30" y="461.54" font-family='"Liberation Sans", sans-serif' font-size="8.6" fill="#111" stroke="#111" stroke-width="0.25">)</text>
<rect x="385.90" y="468.36" width="4.60" height="4.60" fill="#99cc00"/>
<text x="393.70 398.95 403.74" y="473.66" font-family='"Liberation Sans", sans-serif' font-size="8.6" fill="#111" stroke="#111" stroke-width="0.25">Fe(</text>
<rect x="406.70" y="467.76" width="4.50" height="0.85" fill="#111"/><rect x="406.70" y="472.81" width="4.50" height="0.85" fill="#111"/><rect x="407.35" y="467.76" width="1.0" height="5.90" fill="#111"/><rect x="409.55" y="467.76" width="1.0" height="5.90" fill="#111"/>
<text x="411.30" y="473.66" font-family='"Liberation Sans", sans-serif' font-size="8.6" fill="#111" stroke="#111" stroke-width="0.25">)</text>
</svg>
</body></html>
